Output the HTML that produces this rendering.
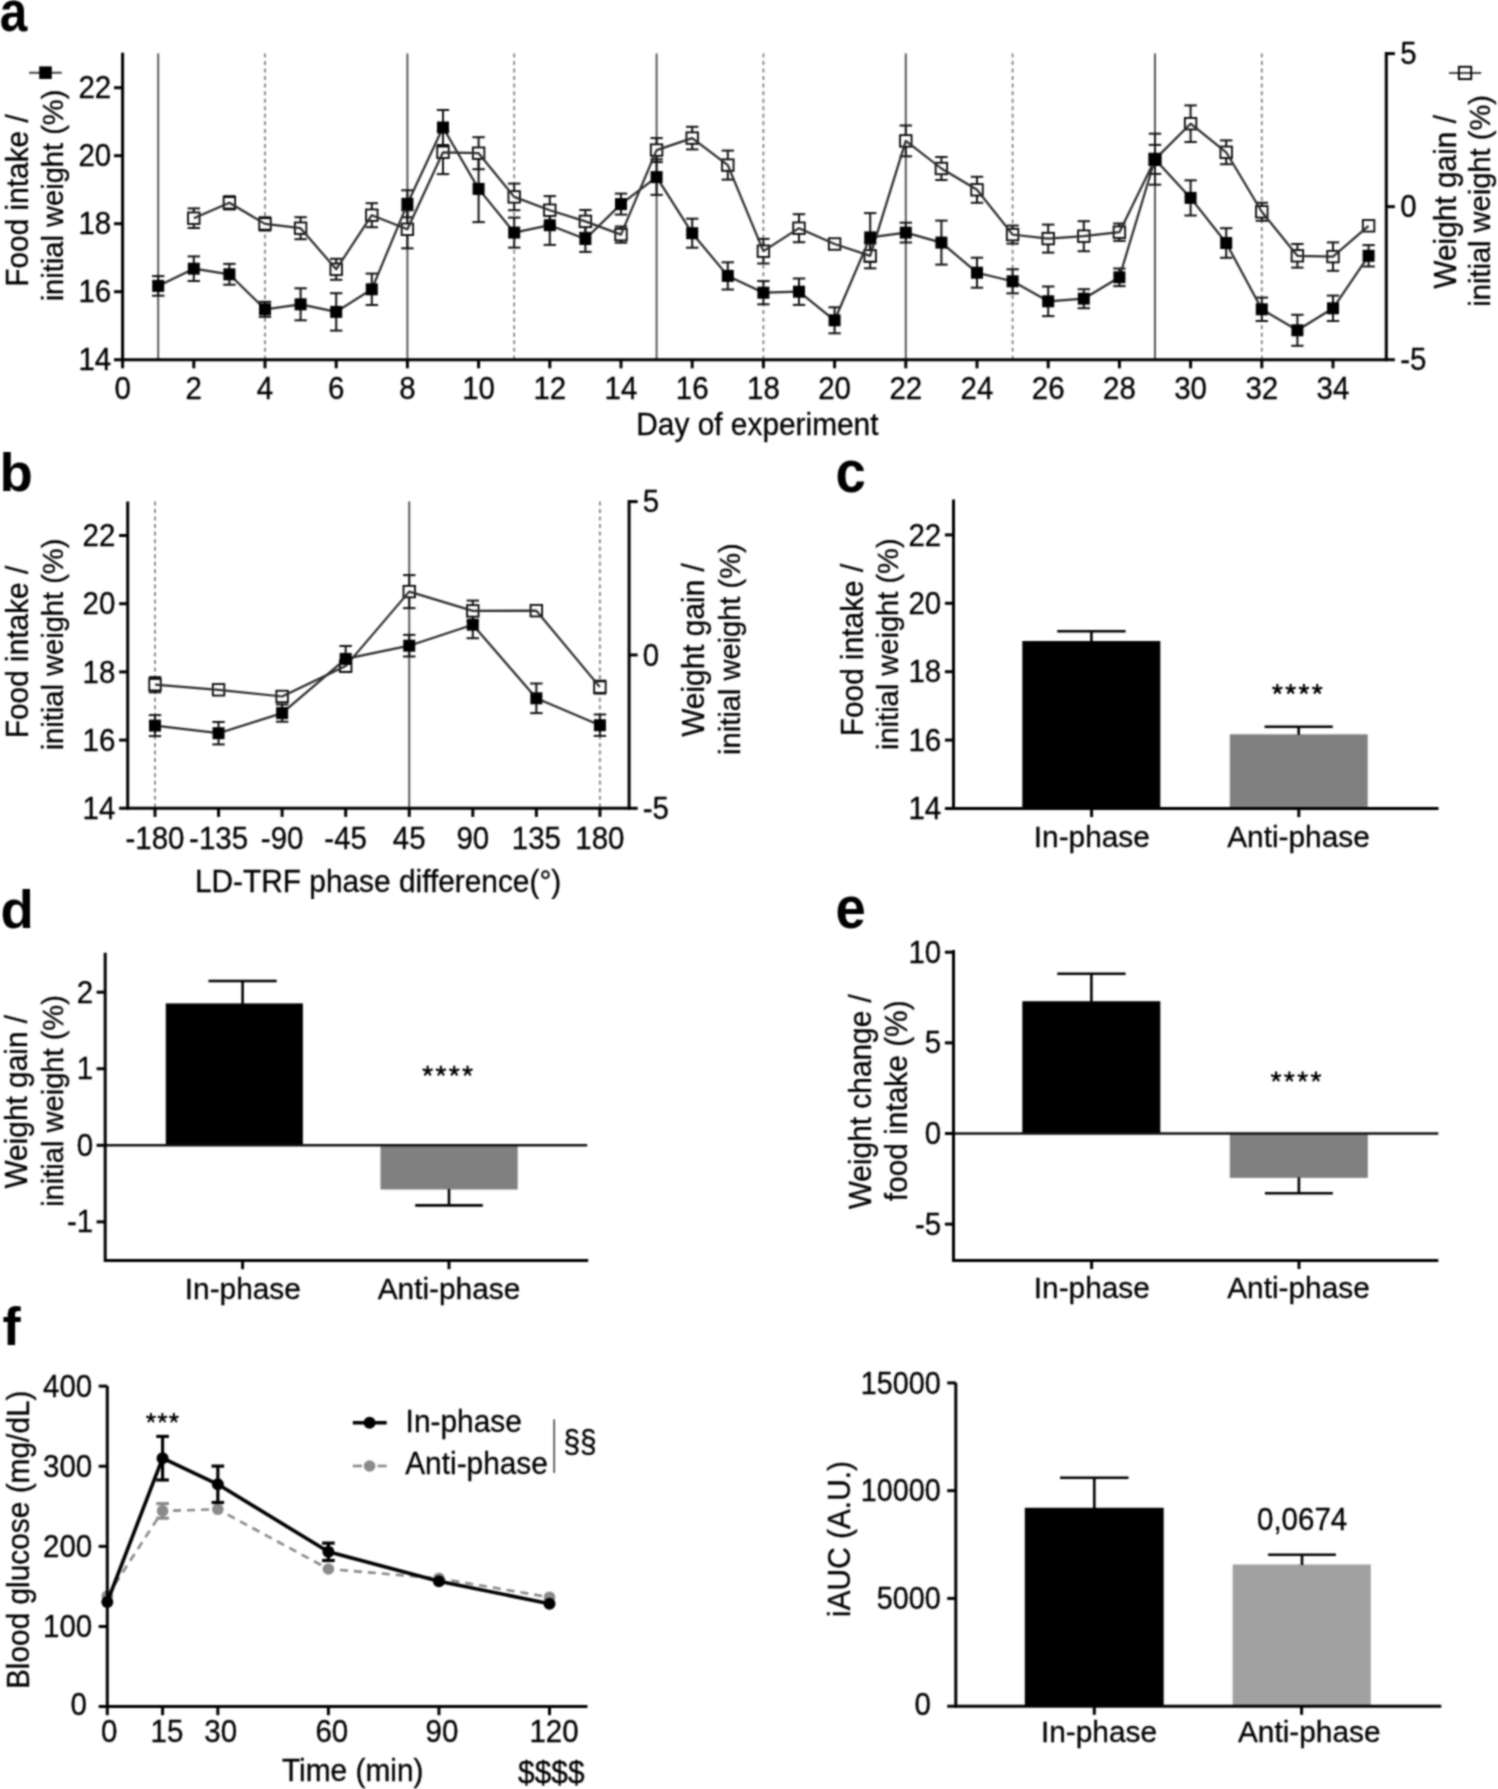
<!DOCTYPE html>
<html><head><meta charset="utf-8"><style>
html,body{margin:0;padding:0;background:#fff;overflow:hidden;}
svg{display:block;filter:grayscale(1);}
text{font-family:"Liberation Sans", sans-serif;}
</style></head><body>
<svg width="1498" height="1789" viewBox="0 0 1498 1789" font-family='"Liberation Sans", sans-serif'>
<defs><filter id="soft" filterUnits="userSpaceOnUse" x="0" y="0" width="1498" height="1789" color-interpolation-filters="sRGB"><feConvolveMatrix order="5 1" kernelMatrix="0.0628 0.5006 1.0000 0.5006 0.0628" divisor="2.1267" edgeMode="duplicate" preserveAlpha="true" result="h"/><feConvolveMatrix in="h" order="1 5" kernelMatrix="0.0628 0.5006 1.0000 0.5006 0.0628" divisor="2.1267" edgeMode="duplicate" preserveAlpha="true"/></filter></defs>
<rect width="1498" height="1789" fill="#fff"/>
<g filter="url(#soft)">
<rect width="1498" height="1789" fill="#fff"/>
<text transform="translate(-0.20 30.80) scale(0.91 1.05)" text-anchor="start" font-size="54.5" font-weight="bold" fill="#000" >a</text>
<text transform="translate(-0.40 491.40)" text-anchor="start" font-size="54.5" font-weight="bold" fill="#000" >b</text>
<text transform="translate(835.60 492.20) scale(1.0 1.07)" text-anchor="start" font-size="54.5" font-weight="bold" fill="#000" >c</text>
<text transform="translate(0.40 927.60)" text-anchor="start" font-size="54.5" font-weight="bold" fill="#000" >d</text>
<text transform="translate(835.60 928.40) scale(1.0 1.07)" text-anchor="start" font-size="54.5" font-weight="bold" fill="#000" >e</text>
<text transform="translate(2.60 1345.20)" text-anchor="start" font-size="54.5" font-weight="bold" fill="#000" >f</text>
<line x1="158.20" y1="53.60" x2="158.20" y2="359.70" stroke="#505050" stroke-width="1.9" />
<line x1="407.40" y1="53.60" x2="407.40" y2="359.70" stroke="#505050" stroke-width="1.9" />
<line x1="656.60" y1="53.60" x2="656.60" y2="359.70" stroke="#505050" stroke-width="1.9" />
<line x1="905.80" y1="53.60" x2="905.80" y2="359.70" stroke="#505050" stroke-width="1.9" />
<line x1="1155.00" y1="53.60" x2="1155.00" y2="359.70" stroke="#505050" stroke-width="1.9" />
<line x1="265.00" y1="53.40" x2="265.00" y2="359.70" stroke="#7a7a7a" stroke-width="1.7" stroke-dasharray="4 3.55"/>
<line x1="514.20" y1="53.40" x2="514.20" y2="359.70" stroke="#7a7a7a" stroke-width="1.7" stroke-dasharray="4 3.55"/>
<line x1="763.40" y1="53.40" x2="763.40" y2="359.70" stroke="#7a7a7a" stroke-width="1.7" stroke-dasharray="4 3.55"/>
<line x1="1012.60" y1="53.40" x2="1012.60" y2="359.70" stroke="#7a7a7a" stroke-width="1.7" stroke-dasharray="4 3.55"/>
<line x1="1261.80" y1="53.40" x2="1261.80" y2="359.70" stroke="#7a7a7a" stroke-width="1.7" stroke-dasharray="4 3.55"/>
<line x1="193.80" y1="208.40" x2="193.80" y2="212.05" stroke="#111" stroke-width="2.0" />
<line x1="193.80" y1="224.35" x2="193.80" y2="228.00" stroke="#111" stroke-width="2.0" />
<line x1="187.60" y1="208.40" x2="200.00" y2="208.40" stroke="#111" stroke-width="2.0" />
<line x1="187.60" y1="228.00" x2="200.00" y2="228.00" stroke="#111" stroke-width="2.0" />
<line x1="229.40" y1="196.20" x2="229.40" y2="196.65" stroke="#111" stroke-width="2.0" />
<line x1="229.40" y1="208.95" x2="229.40" y2="209.40" stroke="#111" stroke-width="2.0" />
<line x1="223.20" y1="196.20" x2="235.60" y2="196.20" stroke="#111" stroke-width="2.0" />
<line x1="223.20" y1="209.40" x2="235.60" y2="209.40" stroke="#111" stroke-width="2.0" />
<line x1="265.00" y1="217.30" x2="265.00" y2="217.75" stroke="#111" stroke-width="2.0" />
<line x1="265.00" y1="230.05" x2="265.00" y2="230.50" stroke="#111" stroke-width="2.0" />
<line x1="258.80" y1="217.30" x2="271.20" y2="217.30" stroke="#111" stroke-width="2.0" />
<line x1="258.80" y1="230.50" x2="271.20" y2="230.50" stroke="#111" stroke-width="2.0" />
<line x1="300.60" y1="217.20" x2="300.60" y2="222.05" stroke="#111" stroke-width="2.0" />
<line x1="300.60" y1="234.35" x2="300.60" y2="239.20" stroke="#111" stroke-width="2.0" />
<line x1="294.40" y1="217.20" x2="306.80" y2="217.20" stroke="#111" stroke-width="2.0" />
<line x1="294.40" y1="239.20" x2="306.80" y2="239.20" stroke="#111" stroke-width="2.0" />
<line x1="336.20" y1="258.80" x2="336.20" y2="263.15" stroke="#111" stroke-width="2.0" />
<line x1="336.20" y1="275.45" x2="336.20" y2="279.80" stroke="#111" stroke-width="2.0" />
<line x1="330.00" y1="258.80" x2="342.40" y2="258.80" stroke="#111" stroke-width="2.0" />
<line x1="330.00" y1="279.80" x2="342.40" y2="279.80" stroke="#111" stroke-width="2.0" />
<line x1="371.80" y1="203.20" x2="371.80" y2="209.05" stroke="#111" stroke-width="2.0" />
<line x1="371.80" y1="221.35" x2="371.80" y2="227.20" stroke="#111" stroke-width="2.0" />
<line x1="365.60" y1="203.20" x2="378.00" y2="203.20" stroke="#111" stroke-width="2.0" />
<line x1="365.60" y1="227.20" x2="378.00" y2="227.20" stroke="#111" stroke-width="2.0" />
<line x1="407.40" y1="210.30" x2="407.40" y2="223.15" stroke="#111" stroke-width="2.0" />
<line x1="407.40" y1="235.45" x2="407.40" y2="248.30" stroke="#111" stroke-width="2.0" />
<line x1="401.20" y1="210.30" x2="413.60" y2="210.30" stroke="#111" stroke-width="2.0" />
<line x1="401.20" y1="248.30" x2="413.60" y2="248.30" stroke="#111" stroke-width="2.0" />
<line x1="443.00" y1="130.50" x2="443.00" y2="146.15" stroke="#111" stroke-width="2.0" />
<line x1="443.00" y1="158.45" x2="443.00" y2="174.10" stroke="#111" stroke-width="2.0" />
<line x1="436.80" y1="130.50" x2="449.20" y2="130.50" stroke="#111" stroke-width="2.0" />
<line x1="436.80" y1="174.10" x2="449.20" y2="174.10" stroke="#111" stroke-width="2.0" />
<line x1="478.60" y1="137.20" x2="478.60" y2="147.05" stroke="#111" stroke-width="2.0" />
<line x1="478.60" y1="159.35" x2="478.60" y2="169.20" stroke="#111" stroke-width="2.0" />
<line x1="472.40" y1="137.20" x2="484.80" y2="137.20" stroke="#111" stroke-width="2.0" />
<line x1="472.40" y1="169.20" x2="484.80" y2="169.20" stroke="#111" stroke-width="2.0" />
<line x1="514.20" y1="183.60" x2="514.20" y2="190.75" stroke="#111" stroke-width="2.0" />
<line x1="514.20" y1="203.05" x2="514.20" y2="210.20" stroke="#111" stroke-width="2.0" />
<line x1="508.00" y1="183.60" x2="520.40" y2="183.60" stroke="#111" stroke-width="2.0" />
<line x1="508.00" y1="210.20" x2="520.40" y2="210.20" stroke="#111" stroke-width="2.0" />
<line x1="549.80" y1="196.10" x2="549.80" y2="204.05" stroke="#111" stroke-width="2.0" />
<line x1="549.80" y1="216.35" x2="549.80" y2="224.30" stroke="#111" stroke-width="2.0" />
<line x1="543.60" y1="196.10" x2="556.00" y2="196.10" stroke="#111" stroke-width="2.0" />
<line x1="543.60" y1="224.30" x2="556.00" y2="224.30" stroke="#111" stroke-width="2.0" />
<line x1="585.40" y1="210.00" x2="585.40" y2="215.25" stroke="#111" stroke-width="2.0" />
<line x1="585.40" y1="227.55" x2="585.40" y2="232.80" stroke="#111" stroke-width="2.0" />
<line x1="579.20" y1="210.00" x2="591.60" y2="210.00" stroke="#111" stroke-width="2.0" />
<line x1="579.20" y1="232.80" x2="591.60" y2="232.80" stroke="#111" stroke-width="2.0" />
<line x1="621.00" y1="226.50" x2="621.00" y2="228.45" stroke="#111" stroke-width="2.0" />
<line x1="621.00" y1="240.75" x2="621.00" y2="242.70" stroke="#111" stroke-width="2.0" />
<line x1="614.80" y1="226.50" x2="627.20" y2="226.50" stroke="#111" stroke-width="2.0" />
<line x1="614.80" y1="242.70" x2="627.20" y2="242.70" stroke="#111" stroke-width="2.0" />
<line x1="656.60" y1="138.10" x2="656.60" y2="143.95" stroke="#111" stroke-width="2.0" />
<line x1="656.60" y1="156.25" x2="656.60" y2="162.10" stroke="#111" stroke-width="2.0" />
<line x1="650.40" y1="138.10" x2="662.80" y2="138.10" stroke="#111" stroke-width="2.0" />
<line x1="650.40" y1="162.10" x2="662.80" y2="162.10" stroke="#111" stroke-width="2.0" />
<line x1="692.20" y1="126.80" x2="692.20" y2="131.95" stroke="#111" stroke-width="2.0" />
<line x1="692.20" y1="144.25" x2="692.20" y2="149.40" stroke="#111" stroke-width="2.0" />
<line x1="686.00" y1="126.80" x2="698.40" y2="126.80" stroke="#111" stroke-width="2.0" />
<line x1="686.00" y1="149.40" x2="698.40" y2="149.40" stroke="#111" stroke-width="2.0" />
<line x1="727.80" y1="150.60" x2="727.80" y2="158.95" stroke="#111" stroke-width="2.0" />
<line x1="727.80" y1="171.25" x2="727.80" y2="179.60" stroke="#111" stroke-width="2.0" />
<line x1="721.60" y1="150.60" x2="734.00" y2="150.60" stroke="#111" stroke-width="2.0" />
<line x1="721.60" y1="179.60" x2="734.00" y2="179.60" stroke="#111" stroke-width="2.0" />
<line x1="763.40" y1="238.90" x2="763.40" y2="245.05" stroke="#111" stroke-width="2.0" />
<line x1="763.40" y1="257.35" x2="763.40" y2="263.50" stroke="#111" stroke-width="2.0" />
<line x1="757.20" y1="238.90" x2="769.60" y2="238.90" stroke="#111" stroke-width="2.0" />
<line x1="757.20" y1="263.50" x2="769.60" y2="263.50" stroke="#111" stroke-width="2.0" />
<line x1="799.00" y1="214.20" x2="799.00" y2="222.05" stroke="#111" stroke-width="2.0" />
<line x1="799.00" y1="234.35" x2="799.00" y2="242.20" stroke="#111" stroke-width="2.0" />
<line x1="792.80" y1="214.20" x2="805.20" y2="214.20" stroke="#111" stroke-width="2.0" />
<line x1="792.80" y1="242.20" x2="805.20" y2="242.20" stroke="#111" stroke-width="2.0" />
<line x1="870.20" y1="243.50" x2="870.20" y2="249.75" stroke="#111" stroke-width="2.0" />
<line x1="870.20" y1="262.05" x2="870.20" y2="268.30" stroke="#111" stroke-width="2.0" />
<line x1="864.00" y1="243.50" x2="876.40" y2="243.50" stroke="#111" stroke-width="2.0" />
<line x1="864.00" y1="268.30" x2="876.40" y2="268.30" stroke="#111" stroke-width="2.0" />
<line x1="905.80" y1="125.50" x2="905.80" y2="134.75" stroke="#111" stroke-width="2.0" />
<line x1="905.80" y1="147.05" x2="905.80" y2="156.30" stroke="#111" stroke-width="2.0" />
<line x1="899.60" y1="125.50" x2="912.00" y2="125.50" stroke="#111" stroke-width="2.0" />
<line x1="899.60" y1="156.30" x2="912.00" y2="156.30" stroke="#111" stroke-width="2.0" />
<line x1="941.40" y1="157.00" x2="941.40" y2="162.35" stroke="#111" stroke-width="2.0" />
<line x1="941.40" y1="174.65" x2="941.40" y2="180.00" stroke="#111" stroke-width="2.0" />
<line x1="935.20" y1="157.00" x2="947.60" y2="157.00" stroke="#111" stroke-width="2.0" />
<line x1="935.20" y1="180.00" x2="947.60" y2="180.00" stroke="#111" stroke-width="2.0" />
<line x1="977.00" y1="176.80" x2="977.00" y2="183.65" stroke="#111" stroke-width="2.0" />
<line x1="977.00" y1="195.95" x2="977.00" y2="202.80" stroke="#111" stroke-width="2.0" />
<line x1="970.80" y1="176.80" x2="983.20" y2="176.80" stroke="#111" stroke-width="2.0" />
<line x1="970.80" y1="202.80" x2="983.20" y2="202.80" stroke="#111" stroke-width="2.0" />
<line x1="1012.60" y1="225.60" x2="1012.60" y2="228.45" stroke="#111" stroke-width="2.0" />
<line x1="1012.60" y1="240.75" x2="1012.60" y2="243.60" stroke="#111" stroke-width="2.0" />
<line x1="1006.40" y1="225.60" x2="1018.80" y2="225.60" stroke="#111" stroke-width="2.0" />
<line x1="1006.40" y1="243.60" x2="1018.80" y2="243.60" stroke="#111" stroke-width="2.0" />
<line x1="1048.20" y1="224.60" x2="1048.20" y2="232.45" stroke="#111" stroke-width="2.0" />
<line x1="1048.20" y1="244.75" x2="1048.20" y2="252.60" stroke="#111" stroke-width="2.0" />
<line x1="1042.00" y1="224.60" x2="1054.40" y2="224.60" stroke="#111" stroke-width="2.0" />
<line x1="1042.00" y1="252.60" x2="1054.40" y2="252.60" stroke="#111" stroke-width="2.0" />
<line x1="1083.80" y1="221.20" x2="1083.80" y2="230.05" stroke="#111" stroke-width="2.0" />
<line x1="1083.80" y1="242.35" x2="1083.80" y2="251.20" stroke="#111" stroke-width="2.0" />
<line x1="1077.60" y1="221.20" x2="1090.00" y2="221.20" stroke="#111" stroke-width="2.0" />
<line x1="1077.60" y1="251.20" x2="1090.00" y2="251.20" stroke="#111" stroke-width="2.0" />
<line x1="1119.40" y1="223.50" x2="1119.40" y2="226.05" stroke="#111" stroke-width="2.0" />
<line x1="1119.40" y1="238.35" x2="1119.40" y2="240.90" stroke="#111" stroke-width="2.0" />
<line x1="1113.20" y1="223.50" x2="1125.60" y2="223.50" stroke="#111" stroke-width="2.0" />
<line x1="1113.20" y1="240.90" x2="1125.60" y2="240.90" stroke="#111" stroke-width="2.0" />
<line x1="1155.00" y1="144.90" x2="1155.00" y2="153.25" stroke="#111" stroke-width="2.0" />
<line x1="1155.00" y1="165.55" x2="1155.00" y2="173.90" stroke="#111" stroke-width="2.0" />
<line x1="1148.80" y1="144.90" x2="1161.20" y2="144.90" stroke="#111" stroke-width="2.0" />
<line x1="1148.80" y1="173.90" x2="1161.20" y2="173.90" stroke="#111" stroke-width="2.0" />
<line x1="1190.60" y1="105.40" x2="1190.60" y2="117.55" stroke="#111" stroke-width="2.0" />
<line x1="1190.60" y1="129.85" x2="1190.60" y2="142.00" stroke="#111" stroke-width="2.0" />
<line x1="1184.40" y1="105.40" x2="1196.80" y2="105.40" stroke="#111" stroke-width="2.0" />
<line x1="1184.40" y1="142.00" x2="1196.80" y2="142.00" stroke="#111" stroke-width="2.0" />
<line x1="1226.20" y1="140.40" x2="1226.20" y2="146.15" stroke="#111" stroke-width="2.0" />
<line x1="1226.20" y1="158.45" x2="1226.20" y2="164.20" stroke="#111" stroke-width="2.0" />
<line x1="1220.00" y1="140.40" x2="1232.40" y2="140.40" stroke="#111" stroke-width="2.0" />
<line x1="1220.00" y1="164.20" x2="1232.40" y2="164.20" stroke="#111" stroke-width="2.0" />
<line x1="1261.80" y1="202.80" x2="1261.80" y2="205.65" stroke="#111" stroke-width="2.0" />
<line x1="1261.80" y1="217.95" x2="1261.80" y2="220.80" stroke="#111" stroke-width="2.0" />
<line x1="1255.60" y1="202.80" x2="1268.00" y2="202.80" stroke="#111" stroke-width="2.0" />
<line x1="1255.60" y1="220.80" x2="1268.00" y2="220.80" stroke="#111" stroke-width="2.0" />
<line x1="1297.40" y1="244.00" x2="1297.40" y2="249.65" stroke="#111" stroke-width="2.0" />
<line x1="1297.40" y1="261.95" x2="1297.40" y2="267.60" stroke="#111" stroke-width="2.0" />
<line x1="1291.20" y1="244.00" x2="1303.60" y2="244.00" stroke="#111" stroke-width="2.0" />
<line x1="1291.20" y1="267.60" x2="1303.60" y2="267.60" stroke="#111" stroke-width="2.0" />
<line x1="1333.00" y1="242.40" x2="1333.00" y2="250.45" stroke="#111" stroke-width="2.0" />
<line x1="1333.00" y1="262.75" x2="1333.00" y2="270.80" stroke="#111" stroke-width="2.0" />
<line x1="1326.80" y1="242.40" x2="1339.20" y2="242.40" stroke="#111" stroke-width="2.0" />
<line x1="1326.80" y1="270.80" x2="1339.20" y2="270.80" stroke="#111" stroke-width="2.0" />
<line x1="1362.40" y1="222.80" x2="1374.80" y2="222.80" stroke="#111" stroke-width="2.0" />
<line x1="1362.40" y1="228.80" x2="1374.80" y2="228.80" stroke="#111" stroke-width="2.0" />
<line x1="158.20" y1="276.10" x2="158.20" y2="285.90" stroke="#111" stroke-width="2.0" />
<line x1="158.20" y1="285.90" x2="158.20" y2="295.70" stroke="#111" stroke-width="2.0" />
<line x1="152.00" y1="276.10" x2="164.40" y2="276.10" stroke="#111" stroke-width="2.0" />
<line x1="152.00" y1="295.70" x2="164.40" y2="295.70" stroke="#111" stroke-width="2.0" />
<line x1="193.80" y1="256.40" x2="193.80" y2="268.70" stroke="#111" stroke-width="2.0" />
<line x1="193.80" y1="268.70" x2="193.80" y2="281.00" stroke="#111" stroke-width="2.0" />
<line x1="187.60" y1="256.40" x2="200.00" y2="256.40" stroke="#111" stroke-width="2.0" />
<line x1="187.60" y1="281.00" x2="200.00" y2="281.00" stroke="#111" stroke-width="2.0" />
<line x1="229.40" y1="263.90" x2="229.40" y2="274.30" stroke="#111" stroke-width="2.0" />
<line x1="229.40" y1="274.30" x2="229.40" y2="284.70" stroke="#111" stroke-width="2.0" />
<line x1="223.20" y1="263.90" x2="235.60" y2="263.90" stroke="#111" stroke-width="2.0" />
<line x1="223.20" y1="284.70" x2="235.60" y2="284.70" stroke="#111" stroke-width="2.0" />
<line x1="265.00" y1="301.80" x2="265.00" y2="309.30" stroke="#111" stroke-width="2.0" />
<line x1="265.00" y1="309.30" x2="265.00" y2="316.80" stroke="#111" stroke-width="2.0" />
<line x1="258.80" y1="301.80" x2="271.20" y2="301.80" stroke="#111" stroke-width="2.0" />
<line x1="258.80" y1="316.80" x2="271.20" y2="316.80" stroke="#111" stroke-width="2.0" />
<line x1="300.60" y1="288.30" x2="300.60" y2="304.30" stroke="#111" stroke-width="2.0" />
<line x1="300.60" y1="304.30" x2="300.60" y2="320.30" stroke="#111" stroke-width="2.0" />
<line x1="294.40" y1="288.30" x2="306.80" y2="288.30" stroke="#111" stroke-width="2.0" />
<line x1="294.40" y1="320.30" x2="306.80" y2="320.30" stroke="#111" stroke-width="2.0" />
<line x1="336.20" y1="293.20" x2="336.20" y2="311.90" stroke="#111" stroke-width="2.0" />
<line x1="336.20" y1="311.90" x2="336.20" y2="330.60" stroke="#111" stroke-width="2.0" />
<line x1="330.00" y1="293.20" x2="342.40" y2="293.20" stroke="#111" stroke-width="2.0" />
<line x1="330.00" y1="330.60" x2="342.40" y2="330.60" stroke="#111" stroke-width="2.0" />
<line x1="371.80" y1="273.60" x2="371.80" y2="289.30" stroke="#111" stroke-width="2.0" />
<line x1="371.80" y1="289.30" x2="371.80" y2="305.00" stroke="#111" stroke-width="2.0" />
<line x1="365.60" y1="273.60" x2="378.00" y2="273.60" stroke="#111" stroke-width="2.0" />
<line x1="365.60" y1="305.00" x2="378.00" y2="305.00" stroke="#111" stroke-width="2.0" />
<line x1="407.40" y1="190.30" x2="407.40" y2="203.80" stroke="#111" stroke-width="2.0" />
<line x1="407.40" y1="203.80" x2="407.40" y2="217.30" stroke="#111" stroke-width="2.0" />
<line x1="401.20" y1="190.30" x2="413.60" y2="190.30" stroke="#111" stroke-width="2.0" />
<line x1="401.20" y1="217.30" x2="413.60" y2="217.30" stroke="#111" stroke-width="2.0" />
<line x1="443.00" y1="110.00" x2="443.00" y2="127.50" stroke="#111" stroke-width="2.0" />
<line x1="443.00" y1="127.50" x2="443.00" y2="145.00" stroke="#111" stroke-width="2.0" />
<line x1="436.80" y1="110.00" x2="449.20" y2="110.00" stroke="#111" stroke-width="2.0" />
<line x1="436.80" y1="145.00" x2="449.20" y2="145.00" stroke="#111" stroke-width="2.0" />
<line x1="478.60" y1="155.70" x2="478.60" y2="188.90" stroke="#111" stroke-width="2.0" />
<line x1="478.60" y1="188.90" x2="478.60" y2="222.10" stroke="#111" stroke-width="2.0" />
<line x1="472.40" y1="155.70" x2="484.80" y2="155.70" stroke="#111" stroke-width="2.0" />
<line x1="472.40" y1="222.10" x2="484.80" y2="222.10" stroke="#111" stroke-width="2.0" />
<line x1="514.20" y1="217.60" x2="514.20" y2="232.60" stroke="#111" stroke-width="2.0" />
<line x1="514.20" y1="232.60" x2="514.20" y2="247.60" stroke="#111" stroke-width="2.0" />
<line x1="508.00" y1="217.60" x2="520.40" y2="217.60" stroke="#111" stroke-width="2.0" />
<line x1="508.00" y1="247.60" x2="520.40" y2="247.60" stroke="#111" stroke-width="2.0" />
<line x1="549.80" y1="205.50" x2="549.80" y2="225.20" stroke="#111" stroke-width="2.0" />
<line x1="549.80" y1="225.20" x2="549.80" y2="244.90" stroke="#111" stroke-width="2.0" />
<line x1="543.60" y1="205.50" x2="556.00" y2="205.50" stroke="#111" stroke-width="2.0" />
<line x1="543.60" y1="244.90" x2="556.00" y2="244.90" stroke="#111" stroke-width="2.0" />
<line x1="585.40" y1="226.10" x2="585.40" y2="239.00" stroke="#111" stroke-width="2.0" />
<line x1="585.40" y1="239.00" x2="585.40" y2="251.90" stroke="#111" stroke-width="2.0" />
<line x1="579.20" y1="226.10" x2="591.60" y2="226.10" stroke="#111" stroke-width="2.0" />
<line x1="579.20" y1="251.90" x2="591.60" y2="251.90" stroke="#111" stroke-width="2.0" />
<line x1="621.00" y1="193.60" x2="621.00" y2="204.10" stroke="#111" stroke-width="2.0" />
<line x1="621.00" y1="204.10" x2="621.00" y2="214.60" stroke="#111" stroke-width="2.0" />
<line x1="614.80" y1="193.60" x2="627.20" y2="193.60" stroke="#111" stroke-width="2.0" />
<line x1="614.80" y1="214.60" x2="627.20" y2="214.60" stroke="#111" stroke-width="2.0" />
<line x1="656.60" y1="159.30" x2="656.60" y2="177.10" stroke="#111" stroke-width="2.0" />
<line x1="656.60" y1="177.10" x2="656.60" y2="194.90" stroke="#111" stroke-width="2.0" />
<line x1="650.40" y1="159.30" x2="662.80" y2="159.30" stroke="#111" stroke-width="2.0" />
<line x1="650.40" y1="194.90" x2="662.80" y2="194.90" stroke="#111" stroke-width="2.0" />
<line x1="692.20" y1="218.70" x2="692.20" y2="233.20" stroke="#111" stroke-width="2.0" />
<line x1="692.20" y1="233.20" x2="692.20" y2="247.70" stroke="#111" stroke-width="2.0" />
<line x1="686.00" y1="218.70" x2="698.40" y2="218.70" stroke="#111" stroke-width="2.0" />
<line x1="686.00" y1="247.70" x2="698.40" y2="247.70" stroke="#111" stroke-width="2.0" />
<line x1="727.80" y1="262.30" x2="727.80" y2="275.90" stroke="#111" stroke-width="2.0" />
<line x1="727.80" y1="275.90" x2="727.80" y2="289.50" stroke="#111" stroke-width="2.0" />
<line x1="721.60" y1="262.30" x2="734.00" y2="262.30" stroke="#111" stroke-width="2.0" />
<line x1="721.60" y1="289.50" x2="734.00" y2="289.50" stroke="#111" stroke-width="2.0" />
<line x1="763.40" y1="281.10" x2="763.40" y2="292.70" stroke="#111" stroke-width="2.0" />
<line x1="763.40" y1="292.70" x2="763.40" y2="304.30" stroke="#111" stroke-width="2.0" />
<line x1="757.20" y1="281.10" x2="769.60" y2="281.10" stroke="#111" stroke-width="2.0" />
<line x1="757.20" y1="304.30" x2="769.60" y2="304.30" stroke="#111" stroke-width="2.0" />
<line x1="799.00" y1="278.50" x2="799.00" y2="291.70" stroke="#111" stroke-width="2.0" />
<line x1="799.00" y1="291.70" x2="799.00" y2="304.90" stroke="#111" stroke-width="2.0" />
<line x1="792.80" y1="278.50" x2="805.20" y2="278.50" stroke="#111" stroke-width="2.0" />
<line x1="792.80" y1="304.90" x2="805.20" y2="304.90" stroke="#111" stroke-width="2.0" />
<line x1="834.60" y1="307.30" x2="834.60" y2="320.30" stroke="#111" stroke-width="2.0" />
<line x1="834.60" y1="320.30" x2="834.60" y2="333.30" stroke="#111" stroke-width="2.0" />
<line x1="828.40" y1="307.30" x2="840.80" y2="307.30" stroke="#111" stroke-width="2.0" />
<line x1="828.40" y1="333.30" x2="840.80" y2="333.30" stroke="#111" stroke-width="2.0" />
<line x1="870.20" y1="213.10" x2="870.20" y2="237.40" stroke="#111" stroke-width="2.0" />
<line x1="870.20" y1="237.40" x2="870.20" y2="261.70" stroke="#111" stroke-width="2.0" />
<line x1="864.00" y1="213.10" x2="876.40" y2="213.10" stroke="#111" stroke-width="2.0" />
<line x1="864.00" y1="261.70" x2="876.40" y2="261.70" stroke="#111" stroke-width="2.0" />
<line x1="905.80" y1="222.70" x2="905.80" y2="232.60" stroke="#111" stroke-width="2.0" />
<line x1="905.80" y1="232.60" x2="905.80" y2="242.50" stroke="#111" stroke-width="2.0" />
<line x1="899.60" y1="222.70" x2="912.00" y2="222.70" stroke="#111" stroke-width="2.0" />
<line x1="899.60" y1="242.50" x2="912.00" y2="242.50" stroke="#111" stroke-width="2.0" />
<line x1="941.40" y1="220.60" x2="941.40" y2="242.60" stroke="#111" stroke-width="2.0" />
<line x1="941.40" y1="242.60" x2="941.40" y2="264.60" stroke="#111" stroke-width="2.0" />
<line x1="935.20" y1="220.60" x2="947.60" y2="220.60" stroke="#111" stroke-width="2.0" />
<line x1="935.20" y1="264.60" x2="947.60" y2="264.60" stroke="#111" stroke-width="2.0" />
<line x1="977.00" y1="257.70" x2="977.00" y2="272.70" stroke="#111" stroke-width="2.0" />
<line x1="977.00" y1="272.70" x2="977.00" y2="287.70" stroke="#111" stroke-width="2.0" />
<line x1="970.80" y1="257.70" x2="983.20" y2="257.70" stroke="#111" stroke-width="2.0" />
<line x1="970.80" y1="287.70" x2="983.20" y2="287.70" stroke="#111" stroke-width="2.0" />
<line x1="1012.60" y1="269.30" x2="1012.60" y2="281.30" stroke="#111" stroke-width="2.0" />
<line x1="1012.60" y1="281.30" x2="1012.60" y2="293.30" stroke="#111" stroke-width="2.0" />
<line x1="1006.40" y1="269.30" x2="1018.80" y2="269.30" stroke="#111" stroke-width="2.0" />
<line x1="1006.40" y1="293.30" x2="1018.80" y2="293.30" stroke="#111" stroke-width="2.0" />
<line x1="1048.20" y1="286.50" x2="1048.20" y2="301.30" stroke="#111" stroke-width="2.0" />
<line x1="1048.20" y1="301.30" x2="1048.20" y2="316.10" stroke="#111" stroke-width="2.0" />
<line x1="1042.00" y1="286.50" x2="1054.40" y2="286.50" stroke="#111" stroke-width="2.0" />
<line x1="1042.00" y1="316.10" x2="1054.40" y2="316.10" stroke="#111" stroke-width="2.0" />
<line x1="1083.80" y1="289.20" x2="1083.80" y2="298.70" stroke="#111" stroke-width="2.0" />
<line x1="1083.80" y1="298.70" x2="1083.80" y2="308.20" stroke="#111" stroke-width="2.0" />
<line x1="1077.60" y1="289.20" x2="1090.00" y2="289.20" stroke="#111" stroke-width="2.0" />
<line x1="1077.60" y1="308.20" x2="1090.00" y2="308.20" stroke="#111" stroke-width="2.0" />
<line x1="1119.40" y1="268.50" x2="1119.40" y2="277.30" stroke="#111" stroke-width="2.0" />
<line x1="1119.40" y1="277.30" x2="1119.40" y2="286.10" stroke="#111" stroke-width="2.0" />
<line x1="1113.20" y1="268.50" x2="1125.60" y2="268.50" stroke="#111" stroke-width="2.0" />
<line x1="1113.20" y1="286.10" x2="1125.60" y2="286.10" stroke="#111" stroke-width="2.0" />
<line x1="1155.00" y1="133.70" x2="1155.00" y2="159.20" stroke="#111" stroke-width="2.0" />
<line x1="1155.00" y1="159.20" x2="1155.00" y2="184.70" stroke="#111" stroke-width="2.0" />
<line x1="1148.80" y1="133.70" x2="1161.20" y2="133.70" stroke="#111" stroke-width="2.0" />
<line x1="1148.80" y1="184.70" x2="1161.20" y2="184.70" stroke="#111" stroke-width="2.0" />
<line x1="1190.60" y1="180.30" x2="1190.60" y2="197.90" stroke="#111" stroke-width="2.0" />
<line x1="1190.60" y1="197.90" x2="1190.60" y2="215.50" stroke="#111" stroke-width="2.0" />
<line x1="1184.40" y1="180.30" x2="1196.80" y2="180.30" stroke="#111" stroke-width="2.0" />
<line x1="1184.40" y1="215.50" x2="1196.80" y2="215.50" stroke="#111" stroke-width="2.0" />
<line x1="1226.20" y1="228.20" x2="1226.20" y2="243.00" stroke="#111" stroke-width="2.0" />
<line x1="1226.20" y1="243.00" x2="1226.20" y2="257.80" stroke="#111" stroke-width="2.0" />
<line x1="1220.00" y1="228.20" x2="1232.40" y2="228.20" stroke="#111" stroke-width="2.0" />
<line x1="1220.00" y1="257.80" x2="1232.40" y2="257.80" stroke="#111" stroke-width="2.0" />
<line x1="1261.80" y1="297.60" x2="1261.80" y2="309.30" stroke="#111" stroke-width="2.0" />
<line x1="1261.80" y1="309.30" x2="1261.80" y2="321.00" stroke="#111" stroke-width="2.0" />
<line x1="1255.60" y1="297.60" x2="1268.00" y2="297.60" stroke="#111" stroke-width="2.0" />
<line x1="1255.60" y1="321.00" x2="1268.00" y2="321.00" stroke="#111" stroke-width="2.0" />
<line x1="1297.40" y1="314.80" x2="1297.40" y2="330.30" stroke="#111" stroke-width="2.0" />
<line x1="1297.40" y1="330.30" x2="1297.40" y2="345.80" stroke="#111" stroke-width="2.0" />
<line x1="1291.20" y1="314.80" x2="1303.60" y2="314.80" stroke="#111" stroke-width="2.0" />
<line x1="1291.20" y1="345.80" x2="1303.60" y2="345.80" stroke="#111" stroke-width="2.0" />
<line x1="1333.00" y1="295.60" x2="1333.00" y2="308.30" stroke="#111" stroke-width="2.0" />
<line x1="1333.00" y1="308.30" x2="1333.00" y2="321.00" stroke="#111" stroke-width="2.0" />
<line x1="1326.80" y1="295.60" x2="1339.20" y2="295.60" stroke="#111" stroke-width="2.0" />
<line x1="1326.80" y1="321.00" x2="1339.20" y2="321.00" stroke="#111" stroke-width="2.0" />
<line x1="1368.60" y1="245.10" x2="1368.60" y2="255.80" stroke="#111" stroke-width="2.0" />
<line x1="1368.60" y1="255.80" x2="1368.60" y2="266.50" stroke="#111" stroke-width="2.0" />
<line x1="1362.40" y1="245.10" x2="1374.80" y2="245.10" stroke="#111" stroke-width="2.0" />
<line x1="1362.40" y1="266.50" x2="1374.80" y2="266.50" stroke="#111" stroke-width="2.0" />
<rect x="188.05" y="212.45" width="11.5" height="11.5" fill="#fff" stroke="#000" stroke-width="1.8"/>
<rect x="223.65" y="197.05" width="11.5" height="11.5" fill="#fff" stroke="#000" stroke-width="1.8"/>
<rect x="259.25" y="218.15" width="11.5" height="11.5" fill="#fff" stroke="#000" stroke-width="1.8"/>
<rect x="294.85" y="222.45" width="11.5" height="11.5" fill="#fff" stroke="#000" stroke-width="1.8"/>
<rect x="330.45" y="263.55" width="11.5" height="11.5" fill="#fff" stroke="#000" stroke-width="1.8"/>
<rect x="366.05" y="209.45" width="11.5" height="11.5" fill="#fff" stroke="#000" stroke-width="1.8"/>
<rect x="401.65" y="223.55" width="11.5" height="11.5" fill="#fff" stroke="#000" stroke-width="1.8"/>
<rect x="437.25" y="146.55" width="11.5" height="11.5" fill="#fff" stroke="#000" stroke-width="1.8"/>
<rect x="472.85" y="147.45" width="11.5" height="11.5" fill="#fff" stroke="#000" stroke-width="1.8"/>
<rect x="508.45" y="191.15" width="11.5" height="11.5" fill="#fff" stroke="#000" stroke-width="1.8"/>
<rect x="544.05" y="204.45" width="11.5" height="11.5" fill="#fff" stroke="#000" stroke-width="1.8"/>
<rect x="579.65" y="215.65" width="11.5" height="11.5" fill="#fff" stroke="#000" stroke-width="1.8"/>
<rect x="615.25" y="228.85" width="11.5" height="11.5" fill="#fff" stroke="#000" stroke-width="1.8"/>
<rect x="650.85" y="144.35" width="11.5" height="11.5" fill="#fff" stroke="#000" stroke-width="1.8"/>
<rect x="686.45" y="132.35" width="11.5" height="11.5" fill="#fff" stroke="#000" stroke-width="1.8"/>
<rect x="722.05" y="159.35" width="11.5" height="11.5" fill="#fff" stroke="#000" stroke-width="1.8"/>
<rect x="757.65" y="245.45" width="11.5" height="11.5" fill="#fff" stroke="#000" stroke-width="1.8"/>
<rect x="793.25" y="222.45" width="11.5" height="11.5" fill="#fff" stroke="#000" stroke-width="1.8"/>
<rect x="828.85" y="238.25" width="11.5" height="11.5" fill="#fff" stroke="#000" stroke-width="1.8"/>
<rect x="864.45" y="250.15" width="11.5" height="11.5" fill="#fff" stroke="#000" stroke-width="1.8"/>
<rect x="900.05" y="135.15" width="11.5" height="11.5" fill="#fff" stroke="#000" stroke-width="1.8"/>
<rect x="935.65" y="162.75" width="11.5" height="11.5" fill="#fff" stroke="#000" stroke-width="1.8"/>
<rect x="971.25" y="184.05" width="11.5" height="11.5" fill="#fff" stroke="#000" stroke-width="1.8"/>
<rect x="1006.85" y="228.85" width="11.5" height="11.5" fill="#fff" stroke="#000" stroke-width="1.8"/>
<rect x="1042.45" y="232.85" width="11.5" height="11.5" fill="#fff" stroke="#000" stroke-width="1.8"/>
<rect x="1078.05" y="230.45" width="11.5" height="11.5" fill="#fff" stroke="#000" stroke-width="1.8"/>
<rect x="1113.65" y="226.45" width="11.5" height="11.5" fill="#fff" stroke="#000" stroke-width="1.8"/>
<rect x="1149.25" y="153.65" width="11.5" height="11.5" fill="#fff" stroke="#000" stroke-width="1.8"/>
<rect x="1184.85" y="117.95" width="11.5" height="11.5" fill="#fff" stroke="#000" stroke-width="1.8"/>
<rect x="1220.45" y="146.55" width="11.5" height="11.5" fill="#fff" stroke="#000" stroke-width="1.8"/>
<rect x="1256.05" y="206.05" width="11.5" height="11.5" fill="#fff" stroke="#000" stroke-width="1.8"/>
<rect x="1291.65" y="250.05" width="11.5" height="11.5" fill="#fff" stroke="#000" stroke-width="1.8"/>
<rect x="1327.25" y="250.85" width="11.5" height="11.5" fill="#fff" stroke="#000" stroke-width="1.8"/>
<rect x="1362.85" y="220.05" width="11.5" height="11.5" fill="#fff" stroke="#000" stroke-width="1.8"/>
<polyline points="193.80,218.20 229.40,202.80 265.00,223.90 300.60,228.20 336.20,269.30 371.80,215.20 407.40,229.30 443.00,152.30 478.60,153.20 514.20,196.90 549.80,210.20 585.40,221.40 621.00,234.60 656.60,150.10 692.20,138.10 727.80,165.10 763.40,251.20 799.00,228.20 834.60,244.00 870.20,255.90 905.80,140.90 941.40,168.50 977.00,189.80 1012.60,234.60 1048.20,238.60 1083.80,236.20 1119.40,232.20 1155.00,159.40 1190.60,123.70 1226.20,152.30 1261.80,211.80 1297.40,255.80 1333.00,256.60 1368.60,225.80" fill="none" stroke="#2a2a2a" stroke-width="2.2" stroke-linejoin="round" />
<polyline points="158.20,285.90 193.80,268.70 229.40,274.30 265.00,309.30 300.60,304.30 336.20,311.90 371.80,289.30 407.40,203.80 443.00,127.50 478.60,188.90 514.20,232.60 549.80,225.20 585.40,239.00 621.00,204.10 656.60,177.10 692.20,233.20 727.80,275.90 763.40,292.70 799.00,291.70 834.60,320.30 870.20,237.40 905.80,232.60 941.40,242.60 977.00,272.70 1012.60,281.30 1048.20,301.30 1083.80,298.70 1119.40,277.30 1155.00,159.20 1190.60,197.90 1226.20,243.00 1261.80,309.30 1297.40,330.30 1333.00,308.30 1368.60,255.80" fill="none" stroke="#2a2a2a" stroke-width="2.2" stroke-linejoin="round" />
<rect x="152.20" y="279.90" width="12.00" height="12.00" fill="#000"/>
<rect x="187.80" y="262.70" width="12.00" height="12.00" fill="#000"/>
<rect x="223.40" y="268.30" width="12.00" height="12.00" fill="#000"/>
<rect x="259.00" y="303.30" width="12.00" height="12.00" fill="#000"/>
<rect x="294.60" y="298.30" width="12.00" height="12.00" fill="#000"/>
<rect x="330.20" y="305.90" width="12.00" height="12.00" fill="#000"/>
<rect x="365.80" y="283.30" width="12.00" height="12.00" fill="#000"/>
<rect x="401.40" y="197.80" width="12.00" height="12.00" fill="#000"/>
<rect x="437.00" y="121.50" width="12.00" height="12.00" fill="#000"/>
<rect x="472.60" y="182.90" width="12.00" height="12.00" fill="#000"/>
<rect x="508.20" y="226.60" width="12.00" height="12.00" fill="#000"/>
<rect x="543.80" y="219.20" width="12.00" height="12.00" fill="#000"/>
<rect x="579.40" y="233.00" width="12.00" height="12.00" fill="#000"/>
<rect x="615.00" y="198.10" width="12.00" height="12.00" fill="#000"/>
<rect x="650.60" y="171.10" width="12.00" height="12.00" fill="#000"/>
<rect x="686.20" y="227.20" width="12.00" height="12.00" fill="#000"/>
<rect x="721.80" y="269.90" width="12.00" height="12.00" fill="#000"/>
<rect x="757.40" y="286.70" width="12.00" height="12.00" fill="#000"/>
<rect x="793.00" y="285.70" width="12.00" height="12.00" fill="#000"/>
<rect x="828.60" y="314.30" width="12.00" height="12.00" fill="#000"/>
<rect x="864.20" y="231.40" width="12.00" height="12.00" fill="#000"/>
<rect x="899.80" y="226.60" width="12.00" height="12.00" fill="#000"/>
<rect x="935.40" y="236.60" width="12.00" height="12.00" fill="#000"/>
<rect x="971.00" y="266.70" width="12.00" height="12.00" fill="#000"/>
<rect x="1006.60" y="275.30" width="12.00" height="12.00" fill="#000"/>
<rect x="1042.20" y="295.30" width="12.00" height="12.00" fill="#000"/>
<rect x="1077.80" y="292.70" width="12.00" height="12.00" fill="#000"/>
<rect x="1113.40" y="271.30" width="12.00" height="12.00" fill="#000"/>
<rect x="1149.00" y="153.20" width="12.00" height="12.00" fill="#000"/>
<rect x="1184.60" y="191.90" width="12.00" height="12.00" fill="#000"/>
<rect x="1220.20" y="237.00" width="12.00" height="12.00" fill="#000"/>
<rect x="1255.80" y="303.30" width="12.00" height="12.00" fill="#000"/>
<rect x="1291.40" y="324.30" width="12.00" height="12.00" fill="#000"/>
<rect x="1327.00" y="302.30" width="12.00" height="12.00" fill="#000"/>
<rect x="1362.60" y="249.80" width="12.00" height="12.00" fill="#000"/>
<line x1="122.60" y1="52.80" x2="122.60" y2="361.20" stroke="#000" stroke-width="3.0" />
<line x1="114.00" y1="359.70" x2="1386.30" y2="359.70" stroke="#000" stroke-width="3.0" />
<line x1="1386.30" y1="52.10" x2="1386.30" y2="361.20" stroke="#000" stroke-width="3.0" />
<line x1="114.00" y1="291.70" x2="122.60" y2="291.70" stroke="#000" stroke-width="3.0" />
<line x1="114.00" y1="223.70" x2="122.60" y2="223.70" stroke="#000" stroke-width="3.0" />
<line x1="114.00" y1="155.70" x2="122.60" y2="155.70" stroke="#000" stroke-width="3.0" />
<line x1="114.00" y1="87.70" x2="122.60" y2="87.70" stroke="#000" stroke-width="3.0" />
<text transform="translate(111.20 370.30) scale(1.0 1.085)" text-anchor="end" font-size="29.5" fill="#000" stroke="#000" stroke-width="0.3" >14</text>
<text transform="translate(111.20 302.30) scale(1.0 1.085)" text-anchor="end" font-size="29.5" fill="#000" stroke="#000" stroke-width="0.3" >16</text>
<text transform="translate(111.20 234.30) scale(1.0 1.085)" text-anchor="end" font-size="29.5" fill="#000" stroke="#000" stroke-width="0.3" >18</text>
<text transform="translate(111.20 166.30) scale(1.0 1.085)" text-anchor="end" font-size="29.5" fill="#000" stroke="#000" stroke-width="0.3" >20</text>
<text transform="translate(111.20 98.30) scale(1.0 1.085)" text-anchor="end" font-size="29.5" fill="#000" stroke="#000" stroke-width="0.3" >22</text>
<line x1="122.60" y1="359.70" x2="122.60" y2="368.30" stroke="#000" stroke-width="3.0" />
<text transform="translate(122.60 399.40) scale(1.0 1.085)" text-anchor="middle" font-size="29.5" fill="#000" stroke="#000" stroke-width="0.3" >0</text>
<line x1="193.80" y1="359.70" x2="193.80" y2="368.30" stroke="#000" stroke-width="3.0" />
<text transform="translate(193.80 399.40) scale(1.0 1.085)" text-anchor="middle" font-size="29.5" fill="#000" stroke="#000" stroke-width="0.3" >2</text>
<line x1="265.00" y1="359.70" x2="265.00" y2="368.30" stroke="#000" stroke-width="3.0" />
<text transform="translate(265.00 399.40) scale(1.0 1.085)" text-anchor="middle" font-size="29.5" fill="#000" stroke="#000" stroke-width="0.3" >4</text>
<line x1="336.20" y1="359.70" x2="336.20" y2="368.30" stroke="#000" stroke-width="3.0" />
<text transform="translate(336.20 399.40) scale(1.0 1.085)" text-anchor="middle" font-size="29.5" fill="#000" stroke="#000" stroke-width="0.3" >6</text>
<line x1="407.40" y1="359.70" x2="407.40" y2="368.30" stroke="#000" stroke-width="3.0" />
<text transform="translate(407.40 399.40) scale(1.0 1.085)" text-anchor="middle" font-size="29.5" fill="#000" stroke="#000" stroke-width="0.3" >8</text>
<line x1="478.60" y1="359.70" x2="478.60" y2="368.30" stroke="#000" stroke-width="3.0" />
<text transform="translate(478.60 399.40) scale(1.0 1.085)" text-anchor="middle" font-size="29.5" fill="#000" stroke="#000" stroke-width="0.3" >10</text>
<line x1="549.80" y1="359.70" x2="549.80" y2="368.30" stroke="#000" stroke-width="3.0" />
<text transform="translate(549.80 399.40) scale(1.0 1.085)" text-anchor="middle" font-size="29.5" fill="#000" stroke="#000" stroke-width="0.3" >12</text>
<line x1="621.00" y1="359.70" x2="621.00" y2="368.30" stroke="#000" stroke-width="3.0" />
<text transform="translate(621.00 399.40) scale(1.0 1.085)" text-anchor="middle" font-size="29.5" fill="#000" stroke="#000" stroke-width="0.3" >14</text>
<line x1="692.20" y1="359.70" x2="692.20" y2="368.30" stroke="#000" stroke-width="3.0" />
<text transform="translate(692.20 399.40) scale(1.0 1.085)" text-anchor="middle" font-size="29.5" fill="#000" stroke="#000" stroke-width="0.3" >16</text>
<line x1="763.40" y1="359.70" x2="763.40" y2="368.30" stroke="#000" stroke-width="3.0" />
<text transform="translate(763.40 399.40) scale(1.0 1.085)" text-anchor="middle" font-size="29.5" fill="#000" stroke="#000" stroke-width="0.3" >18</text>
<line x1="834.60" y1="359.70" x2="834.60" y2="368.30" stroke="#000" stroke-width="3.0" />
<text transform="translate(834.60 399.40) scale(1.0 1.085)" text-anchor="middle" font-size="29.5" fill="#000" stroke="#000" stroke-width="0.3" >20</text>
<line x1="905.80" y1="359.70" x2="905.80" y2="368.30" stroke="#000" stroke-width="3.0" />
<text transform="translate(905.80 399.40) scale(1.0 1.085)" text-anchor="middle" font-size="29.5" fill="#000" stroke="#000" stroke-width="0.3" >22</text>
<line x1="977.00" y1="359.70" x2="977.00" y2="368.30" stroke="#000" stroke-width="3.0" />
<text transform="translate(977.00 399.40) scale(1.0 1.085)" text-anchor="middle" font-size="29.5" fill="#000" stroke="#000" stroke-width="0.3" >24</text>
<line x1="1048.20" y1="359.70" x2="1048.20" y2="368.30" stroke="#000" stroke-width="3.0" />
<text transform="translate(1048.20 399.40) scale(1.0 1.085)" text-anchor="middle" font-size="29.5" fill="#000" stroke="#000" stroke-width="0.3" >26</text>
<line x1="1119.40" y1="359.70" x2="1119.40" y2="368.30" stroke="#000" stroke-width="3.0" />
<text transform="translate(1119.40 399.40) scale(1.0 1.085)" text-anchor="middle" font-size="29.5" fill="#000" stroke="#000" stroke-width="0.3" >28</text>
<line x1="1190.60" y1="359.70" x2="1190.60" y2="368.30" stroke="#000" stroke-width="3.0" />
<text transform="translate(1190.60 399.40) scale(1.0 1.085)" text-anchor="middle" font-size="29.5" fill="#000" stroke="#000" stroke-width="0.3" >30</text>
<line x1="1261.80" y1="359.70" x2="1261.80" y2="368.30" stroke="#000" stroke-width="3.0" />
<text transform="translate(1261.80 399.40) scale(1.0 1.085)" text-anchor="middle" font-size="29.5" fill="#000" stroke="#000" stroke-width="0.3" >32</text>
<line x1="1333.00" y1="359.70" x2="1333.00" y2="368.30" stroke="#000" stroke-width="3.0" />
<text transform="translate(1333.00 399.40) scale(1.0 1.085)" text-anchor="middle" font-size="29.5" fill="#000" stroke="#000" stroke-width="0.3" >34</text>
<line x1="1386.30" y1="53.60" x2="1394.90" y2="53.60" stroke="#000" stroke-width="3.0" />
<text transform="translate(1400.20 64.20) scale(1.0 1.085)" text-anchor="start" font-size="29.5" fill="#000" stroke="#000" stroke-width="0.3" >5</text>
<line x1="1386.30" y1="206.65" x2="1394.90" y2="206.65" stroke="#000" stroke-width="3.0" />
<text transform="translate(1400.20 217.25) scale(1.0 1.085)" text-anchor="start" font-size="29.5" fill="#000" stroke="#000" stroke-width="0.3" >0</text>
<line x1="1386.30" y1="359.70" x2="1394.90" y2="359.70" stroke="#000" stroke-width="3.0" />
<text transform="translate(1400.20 370.30) scale(1.0 1.085)" text-anchor="start" font-size="29.5" fill="#000" stroke="#000" stroke-width="0.3" >-5</text>
<text transform="translate(757.40 434.50) scale(1.0 1.03)" text-anchor="middle" font-size="29.85" fill="#000" stroke="#000" stroke-width="0.3" >Day of experiment</text>
<text transform="translate(27.70 200.50) rotate(-90) scale(1.0 1.03)" text-anchor="middle" font-size="29.85" fill="#000" stroke="#000" stroke-width="0.3" >Food intake /</text>
<text transform="translate(62.60 195.50) rotate(-90) scale(1.0 1.03)" text-anchor="middle" font-size="29.1" fill="#000" stroke="#000" stroke-width="0.3" >initial weight (%)</text>
<text transform="translate(1455.60 201.80) rotate(-90) scale(1.0 1.03)" text-anchor="middle" font-size="29.85" fill="#000" stroke="#000" stroke-width="0.3" >Weight gain /</text>
<text transform="translate(1490.00 200.90) rotate(-90) scale(1.0 1.03)" text-anchor="middle" font-size="29.1" fill="#000" stroke="#000" stroke-width="0.3" >initial weight (%)</text>
<line x1="29.00" y1="72.80" x2="61.90" y2="72.80" stroke="#444" stroke-width="2.0" />
<rect x="39.20" y="66.40" width="12.60" height="12.60" fill="#000"/>
<line x1="1448.90" y1="72.90" x2="1481.20" y2="72.90" stroke="#444" stroke-width="2.0" />
<rect x="1458.9" y="66.8" width="12.3" height="12.3" fill="none" stroke="#000" stroke-width="1.9"/>
<line x1="409.24" y1="501.40" x2="409.24" y2="808.30" stroke="#505050" stroke-width="1.9" />
<line x1="155.00" y1="501.40" x2="155.00" y2="808.30" stroke="#7a7a7a" stroke-width="1.7" stroke-dasharray="4 3.55"/>
<line x1="599.92" y1="501.40" x2="599.92" y2="808.30" stroke="#7a7a7a" stroke-width="1.7" stroke-dasharray="4 3.55"/>
<line x1="155.00" y1="677.10" x2="155.00" y2="678.55" stroke="#111" stroke-width="2.0" />
<line x1="155.00" y1="690.85" x2="155.00" y2="692.30" stroke="#111" stroke-width="2.0" />
<line x1="148.80" y1="677.10" x2="161.20" y2="677.10" stroke="#111" stroke-width="2.0" />
<line x1="148.80" y1="692.30" x2="161.20" y2="692.30" stroke="#111" stroke-width="2.0" />
<line x1="409.24" y1="575.10" x2="409.24" y2="585.45" stroke="#111" stroke-width="2.0" />
<line x1="409.24" y1="597.75" x2="409.24" y2="608.10" stroke="#111" stroke-width="2.0" />
<line x1="403.04" y1="575.10" x2="415.44" y2="575.10" stroke="#111" stroke-width="2.0" />
<line x1="403.04" y1="608.10" x2="415.44" y2="608.10" stroke="#111" stroke-width="2.0" />
<line x1="472.80" y1="600.60" x2="472.80" y2="604.75" stroke="#111" stroke-width="2.0" />
<line x1="472.80" y1="617.05" x2="472.80" y2="621.20" stroke="#111" stroke-width="2.0" />
<line x1="466.60" y1="600.60" x2="479.00" y2="600.60" stroke="#111" stroke-width="2.0" />
<line x1="466.60" y1="621.20" x2="479.00" y2="621.20" stroke="#111" stroke-width="2.0" />
<line x1="599.92" y1="680.70" x2="599.92" y2="680.95" stroke="#111" stroke-width="2.0" />
<line x1="599.92" y1="693.25" x2="599.92" y2="693.50" stroke="#111" stroke-width="2.0" />
<line x1="593.72" y1="680.70" x2="606.12" y2="680.70" stroke="#111" stroke-width="2.0" />
<line x1="593.72" y1="693.50" x2="606.12" y2="693.50" stroke="#111" stroke-width="2.0" />
<line x1="155.00" y1="715.10" x2="155.00" y2="725.60" stroke="#111" stroke-width="2.0" />
<line x1="155.00" y1="725.60" x2="155.00" y2="736.10" stroke="#111" stroke-width="2.0" />
<line x1="148.80" y1="715.10" x2="161.20" y2="715.10" stroke="#111" stroke-width="2.0" />
<line x1="148.80" y1="736.10" x2="161.20" y2="736.10" stroke="#111" stroke-width="2.0" />
<line x1="218.56" y1="722.00" x2="218.56" y2="733.20" stroke="#111" stroke-width="2.0" />
<line x1="218.56" y1="733.20" x2="218.56" y2="744.40" stroke="#111" stroke-width="2.0" />
<line x1="212.36" y1="722.00" x2="224.76" y2="722.00" stroke="#111" stroke-width="2.0" />
<line x1="212.36" y1="744.40" x2="224.76" y2="744.40" stroke="#111" stroke-width="2.0" />
<line x1="282.12" y1="704.50" x2="282.12" y2="713.10" stroke="#111" stroke-width="2.0" />
<line x1="282.12" y1="713.10" x2="282.12" y2="721.70" stroke="#111" stroke-width="2.0" />
<line x1="275.92" y1="704.50" x2="288.32" y2="704.50" stroke="#111" stroke-width="2.0" />
<line x1="275.92" y1="721.70" x2="288.32" y2="721.70" stroke="#111" stroke-width="2.0" />
<line x1="345.68" y1="646.00" x2="345.68" y2="658.90" stroke="#111" stroke-width="2.0" />
<line x1="345.68" y1="658.90" x2="345.68" y2="671.80" stroke="#111" stroke-width="2.0" />
<line x1="339.48" y1="646.00" x2="351.88" y2="646.00" stroke="#111" stroke-width="2.0" />
<line x1="339.48" y1="671.80" x2="351.88" y2="671.80" stroke="#111" stroke-width="2.0" />
<line x1="409.24" y1="634.90" x2="409.24" y2="645.70" stroke="#111" stroke-width="2.0" />
<line x1="409.24" y1="645.70" x2="409.24" y2="656.50" stroke="#111" stroke-width="2.0" />
<line x1="403.04" y1="634.90" x2="415.44" y2="634.90" stroke="#111" stroke-width="2.0" />
<line x1="403.04" y1="656.50" x2="415.44" y2="656.50" stroke="#111" stroke-width="2.0" />
<line x1="472.80" y1="611.20" x2="472.80" y2="624.70" stroke="#111" stroke-width="2.0" />
<line x1="472.80" y1="624.70" x2="472.80" y2="638.20" stroke="#111" stroke-width="2.0" />
<line x1="466.60" y1="611.20" x2="479.00" y2="611.20" stroke="#111" stroke-width="2.0" />
<line x1="466.60" y1="638.20" x2="479.00" y2="638.20" stroke="#111" stroke-width="2.0" />
<line x1="536.36" y1="683.50" x2="536.36" y2="698.30" stroke="#111" stroke-width="2.0" />
<line x1="536.36" y1="698.30" x2="536.36" y2="713.10" stroke="#111" stroke-width="2.0" />
<line x1="530.16" y1="683.50" x2="542.56" y2="683.50" stroke="#111" stroke-width="2.0" />
<line x1="530.16" y1="713.10" x2="542.56" y2="713.10" stroke="#111" stroke-width="2.0" />
<line x1="599.92" y1="714.50" x2="599.92" y2="725.20" stroke="#111" stroke-width="2.0" />
<line x1="599.92" y1="725.20" x2="599.92" y2="735.90" stroke="#111" stroke-width="2.0" />
<line x1="593.72" y1="714.50" x2="606.12" y2="714.50" stroke="#111" stroke-width="2.0" />
<line x1="593.72" y1="735.90" x2="606.12" y2="735.90" stroke="#111" stroke-width="2.0" />
<rect x="149.25" y="678.95" width="11.5" height="11.5" fill="#fff" stroke="#000" stroke-width="1.8"/>
<rect x="212.81" y="684.05" width="11.5" height="11.5" fill="#fff" stroke="#000" stroke-width="1.8"/>
<rect x="276.37" y="690.75" width="11.5" height="11.5" fill="#fff" stroke="#000" stroke-width="1.8"/>
<rect x="339.93" y="660.35" width="11.5" height="11.5" fill="#fff" stroke="#000" stroke-width="1.8"/>
<rect x="403.49" y="585.85" width="11.5" height="11.5" fill="#fff" stroke="#000" stroke-width="1.8"/>
<rect x="467.05" y="605.15" width="11.5" height="11.5" fill="#fff" stroke="#000" stroke-width="1.8"/>
<rect x="530.61" y="604.95" width="11.5" height="11.5" fill="#fff" stroke="#000" stroke-width="1.8"/>
<rect x="594.17" y="681.35" width="11.5" height="11.5" fill="#fff" stroke="#000" stroke-width="1.8"/>
<polyline points="155.00,684.70 218.56,689.80 282.12,696.50 345.68,666.10 409.24,591.60 472.80,610.90 536.36,610.70 599.92,687.10" fill="none" stroke="#2a2a2a" stroke-width="2.2" stroke-linejoin="round" />
<polyline points="155.00,725.60 218.56,733.20 282.12,713.10 345.68,658.90 409.24,645.70 472.80,624.70 536.36,698.30 599.92,725.20" fill="none" stroke="#2a2a2a" stroke-width="2.2" stroke-linejoin="round" />
<rect x="149.00" y="719.60" width="12.00" height="12.00" fill="#000"/>
<rect x="212.56" y="727.20" width="12.00" height="12.00" fill="#000"/>
<rect x="276.12" y="707.10" width="12.00" height="12.00" fill="#000"/>
<rect x="339.68" y="652.90" width="12.00" height="12.00" fill="#000"/>
<rect x="403.24" y="639.70" width="12.00" height="12.00" fill="#000"/>
<rect x="466.80" y="618.70" width="12.00" height="12.00" fill="#000"/>
<rect x="530.36" y="692.30" width="12.00" height="12.00" fill="#000"/>
<rect x="593.92" y="719.20" width="12.00" height="12.00" fill="#000"/>
<line x1="127.70" y1="501.40" x2="127.70" y2="809.80" stroke="#000" stroke-width="3.0" />
<line x1="119.10" y1="808.30" x2="629.10" y2="808.30" stroke="#000" stroke-width="3.0" />
<line x1="629.10" y1="500.10" x2="629.10" y2="809.80" stroke="#000" stroke-width="3.0" />
<line x1="119.10" y1="740.10" x2="127.70" y2="740.10" stroke="#000" stroke-width="3.0" />
<line x1="119.10" y1="671.90" x2="127.70" y2="671.90" stroke="#000" stroke-width="3.0" />
<line x1="119.10" y1="603.70" x2="127.70" y2="603.70" stroke="#000" stroke-width="3.0" />
<line x1="119.10" y1="535.50" x2="127.70" y2="535.50" stroke="#000" stroke-width="3.0" />
<text transform="translate(115.40 818.90) scale(1.0 1.085)" text-anchor="end" font-size="29.5" fill="#000" stroke="#000" stroke-width="0.3" >14</text>
<text transform="translate(115.40 750.70) scale(1.0 1.085)" text-anchor="end" font-size="29.5" fill="#000" stroke="#000" stroke-width="0.3" >16</text>
<text transform="translate(115.40 682.50) scale(1.0 1.085)" text-anchor="end" font-size="29.5" fill="#000" stroke="#000" stroke-width="0.3" >18</text>
<text transform="translate(115.40 614.30) scale(1.0 1.085)" text-anchor="end" font-size="29.5" fill="#000" stroke="#000" stroke-width="0.3" >20</text>
<text transform="translate(115.40 546.10) scale(1.0 1.085)" text-anchor="end" font-size="29.5" fill="#000" stroke="#000" stroke-width="0.3" >22</text>
<line x1="155.00" y1="808.30" x2="155.00" y2="816.90" stroke="#000" stroke-width="3.0" />
<text transform="translate(155.00 848.60) scale(1.0 1.085)" text-anchor="middle" font-size="29.5" fill="#000" stroke="#000" stroke-width="0.3" >-180</text>
<line x1="218.56" y1="808.30" x2="218.56" y2="816.90" stroke="#000" stroke-width="3.0" />
<text transform="translate(218.56 848.60) scale(1.0 1.085)" text-anchor="middle" font-size="29.5" fill="#000" stroke="#000" stroke-width="0.3" >-135</text>
<line x1="282.12" y1="808.30" x2="282.12" y2="816.90" stroke="#000" stroke-width="3.0" />
<text transform="translate(282.12 848.60) scale(1.0 1.085)" text-anchor="middle" font-size="29.5" fill="#000" stroke="#000" stroke-width="0.3" >-90</text>
<line x1="345.68" y1="808.30" x2="345.68" y2="816.90" stroke="#000" stroke-width="3.0" />
<text transform="translate(345.68 848.60) scale(1.0 1.085)" text-anchor="middle" font-size="29.5" fill="#000" stroke="#000" stroke-width="0.3" >-45</text>
<line x1="409.24" y1="808.30" x2="409.24" y2="816.90" stroke="#000" stroke-width="3.0" />
<text transform="translate(409.24 848.60) scale(1.0 1.085)" text-anchor="middle" font-size="29.5" fill="#000" stroke="#000" stroke-width="0.3" >45</text>
<line x1="472.80" y1="808.30" x2="472.80" y2="816.90" stroke="#000" stroke-width="3.0" />
<text transform="translate(472.80 848.60) scale(1.0 1.085)" text-anchor="middle" font-size="29.5" fill="#000" stroke="#000" stroke-width="0.3" >90</text>
<line x1="536.36" y1="808.30" x2="536.36" y2="816.90" stroke="#000" stroke-width="3.0" />
<text transform="translate(536.36 848.60) scale(1.0 1.085)" text-anchor="middle" font-size="29.5" fill="#000" stroke="#000" stroke-width="0.3" >135</text>
<line x1="599.92" y1="808.30" x2="599.92" y2="816.90" stroke="#000" stroke-width="3.0" />
<text transform="translate(599.92 848.60) scale(1.0 1.085)" text-anchor="middle" font-size="29.5" fill="#000" stroke="#000" stroke-width="0.3" >180</text>
<line x1="629.10" y1="501.60" x2="637.70" y2="501.60" stroke="#000" stroke-width="3.0" />
<text transform="translate(642.80 512.20) scale(1.0 1.085)" text-anchor="start" font-size="29.5" fill="#000" stroke="#000" stroke-width="0.3" >5</text>
<line x1="629.10" y1="654.95" x2="637.70" y2="654.95" stroke="#000" stroke-width="3.0" />
<text transform="translate(642.80 665.55) scale(1.0 1.085)" text-anchor="start" font-size="29.5" fill="#000" stroke="#000" stroke-width="0.3" >0</text>
<line x1="629.10" y1="808.30" x2="637.70" y2="808.30" stroke="#000" stroke-width="3.0" />
<text transform="translate(642.80 818.90) scale(1.0 1.085)" text-anchor="start" font-size="29.5" fill="#000" stroke="#000" stroke-width="0.3" >-5</text>
<text transform="translate(378.10 891.50) scale(1.0 1.03)" text-anchor="middle" font-size="29.85" fill="#000" stroke="#000" stroke-width="0.3" >LD-TRF phase difference(°)</text>
<text transform="translate(27.70 652.00) rotate(-90) scale(1.0 1.03)" text-anchor="middle" font-size="29.85" fill="#000" stroke="#000" stroke-width="0.3" >Food intake /</text>
<text transform="translate(62.70 644.50) rotate(-90) scale(1.0 1.03)" text-anchor="middle" font-size="29.1" fill="#000" stroke="#000" stroke-width="0.3" >initial weight (%)</text>
<text transform="translate(703.60 650.00) rotate(-90) scale(1.0 1.03)" text-anchor="middle" font-size="29.85" fill="#000" stroke="#000" stroke-width="0.3" >Weight gain /</text>
<text transform="translate(739.70 649.10) rotate(-90) scale(1.0 1.03)" text-anchor="middle" font-size="29.1" fill="#000" stroke="#000" stroke-width="0.3" >initial weight (%)</text>
<rect x="1022.30" y="641.00" width="138.00" height="167.50" fill="#000"/>
<rect x="1229.80" y="734.30" width="137.90" height="74.20" fill="#808080"/>
<line x1="1091.40" y1="641.50" x2="1091.40" y2="631.30" stroke="#000" stroke-width="2.6" />
<line x1="1057.20" y1="631.30" x2="1125.60" y2="631.30" stroke="#000" stroke-width="2.6" />
<line x1="1298.70" y1="734.80" x2="1298.70" y2="726.80" stroke="#000" stroke-width="2.6" />
<line x1="1264.60" y1="726.80" x2="1332.80" y2="726.80" stroke="#000" stroke-width="2.6" />
<line x1="953.50" y1="499.60" x2="953.50" y2="810.00" stroke="#000" stroke-width="3.0" />
<line x1="944.90" y1="808.50" x2="1438.50" y2="808.50" stroke="#000" stroke-width="3.0" />
<line x1="944.90" y1="740.10" x2="953.50" y2="740.10" stroke="#000" stroke-width="3.0" />
<line x1="944.90" y1="671.70" x2="953.50" y2="671.70" stroke="#000" stroke-width="3.0" />
<line x1="944.90" y1="603.30" x2="953.50" y2="603.30" stroke="#000" stroke-width="3.0" />
<line x1="944.90" y1="534.90" x2="953.50" y2="534.90" stroke="#000" stroke-width="3.0" />
<text transform="translate(941.20 819.10) scale(1.0 1.085)" text-anchor="end" font-size="29.5" fill="#000" stroke="#000" stroke-width="0.3" >14</text>
<text transform="translate(941.20 750.70) scale(1.0 1.085)" text-anchor="end" font-size="29.5" fill="#000" stroke="#000" stroke-width="0.3" >16</text>
<text transform="translate(941.20 682.30) scale(1.0 1.085)" text-anchor="end" font-size="29.5" fill="#000" stroke="#000" stroke-width="0.3" >18</text>
<text transform="translate(941.20 613.90) scale(1.0 1.085)" text-anchor="end" font-size="29.5" fill="#000" stroke="#000" stroke-width="0.3" >20</text>
<text transform="translate(941.20 545.50) scale(1.0 1.085)" text-anchor="end" font-size="29.5" fill="#000" stroke="#000" stroke-width="0.3" >22</text>
<line x1="1091.60" y1="808.50" x2="1091.60" y2="817.10" stroke="#000" stroke-width="3.0" />
<line x1="1298.80" y1="808.50" x2="1298.80" y2="817.10" stroke="#000" stroke-width="3.0" />
<text transform="translate(1091.80 847.20) scale(1.0 0.985)" text-anchor="middle" font-size="29.85" fill="#000" stroke="#000" stroke-width="0.3" >In-phase</text>
<text transform="translate(1298.50 847.00) scale(1.0 0.985)" text-anchor="middle" font-size="29.85" fill="#000" stroke="#000" stroke-width="0.3" >Anti-phase</text>
<path d="M1277.35,689.20L1277.35,684.80M1277.35,689.20L1273.17,687.84M1277.35,689.20L1274.76,692.76M1277.35,689.20L1279.94,692.76M1277.35,689.20L1281.53,687.84" stroke="#000" stroke-width="2.2" stroke-linecap="round" fill="none"/>
<path d="M1290.65,689.20L1290.65,684.80M1290.65,689.20L1286.47,687.84M1290.65,689.20L1288.06,692.76M1290.65,689.20L1293.24,692.76M1290.65,689.20L1294.83,687.84" stroke="#000" stroke-width="2.2" stroke-linecap="round" fill="none"/>
<path d="M1303.95,689.20L1303.95,684.80M1303.95,689.20L1299.77,687.84M1303.95,689.20L1301.36,692.76M1303.95,689.20L1306.54,692.76M1303.95,689.20L1308.13,687.84" stroke="#000" stroke-width="2.2" stroke-linecap="round" fill="none"/>
<path d="M1317.25,689.20L1317.25,684.80M1317.25,689.20L1313.07,687.84M1317.25,689.20L1314.66,692.76M1317.25,689.20L1319.84,692.76M1317.25,689.20L1321.43,687.84" stroke="#000" stroke-width="2.2" stroke-linecap="round" fill="none"/>
<text transform="translate(862.90 650.00) rotate(-90) scale(1.0 1.03)" text-anchor="middle" font-size="29.85" fill="#000" stroke="#000" stroke-width="0.3" >Food intake /</text>
<text transform="translate(897.80 644.20) rotate(-90) scale(1.0 1.03)" text-anchor="middle" font-size="29.1" fill="#000" stroke="#000" stroke-width="0.3" >initial weight (%)</text>
<rect x="165.80" y="1003.40" width="137.10" height="141.90" fill="#000"/>
<rect x="380.50" y="1145.30" width="137.20" height="44.20" fill="#808080"/>
<line x1="105.20" y1="1145.30" x2="587.20" y2="1145.30" stroke="#111" stroke-width="2.6" />
<line x1="242.60" y1="1003.90" x2="242.60" y2="981.00" stroke="#000" stroke-width="2.6" />
<line x1="208.50" y1="981.00" x2="276.70" y2="981.00" stroke="#000" stroke-width="2.6" />
<line x1="449.00" y1="1189.00" x2="449.00" y2="1205.40" stroke="#000" stroke-width="2.6" />
<line x1="415.20" y1="1205.40" x2="482.80" y2="1205.40" stroke="#000" stroke-width="2.6" />
<line x1="105.20" y1="952.80" x2="105.20" y2="1262.10" stroke="#000" stroke-width="3.0" />
<line x1="105.20" y1="1260.60" x2="588.20" y2="1260.60" stroke="#000" stroke-width="3.0" />
<line x1="96.60" y1="992.20" x2="105.20" y2="992.20" stroke="#000" stroke-width="3.0" />
<text transform="translate(93.20 1002.80) scale(1.0 1.085)" text-anchor="end" font-size="29.5" fill="#000" stroke="#000" stroke-width="0.3" >2</text>
<line x1="96.60" y1="1068.75" x2="105.20" y2="1068.75" stroke="#000" stroke-width="3.0" />
<text transform="translate(93.20 1079.35) scale(1.0 1.085)" text-anchor="end" font-size="29.5" fill="#000" stroke="#000" stroke-width="0.3" >1</text>
<line x1="96.60" y1="1145.30" x2="105.20" y2="1145.30" stroke="#000" stroke-width="3.0" />
<text transform="translate(93.20 1155.90) scale(1.0 1.085)" text-anchor="end" font-size="29.5" fill="#000" stroke="#000" stroke-width="0.3" >0</text>
<line x1="96.60" y1="1221.85" x2="105.20" y2="1221.85" stroke="#000" stroke-width="3.0" />
<text transform="translate(93.20 1232.45) scale(1.0 1.085)" text-anchor="end" font-size="29.5" fill="#000" stroke="#000" stroke-width="0.3" >-1</text>
<line x1="242.60" y1="1260.60" x2="242.60" y2="1269.20" stroke="#000" stroke-width="3.0" />
<line x1="449.00" y1="1260.60" x2="449.00" y2="1269.20" stroke="#000" stroke-width="3.0" />
<text transform="translate(242.80 1299.00) scale(1.0 0.985)" text-anchor="middle" font-size="29.85" fill="#000" stroke="#000" stroke-width="0.3" >In-phase</text>
<text transform="translate(449.00 1299.00) scale(1.0 0.985)" text-anchor="middle" font-size="29.85" fill="#000" stroke="#000" stroke-width="0.3" >Anti-phase</text>
<path d="M427.65,1071.00L427.65,1066.60M427.65,1071.00L423.47,1069.64M427.65,1071.00L425.06,1074.56M427.65,1071.00L430.24,1074.56M427.65,1071.00L431.83,1069.64" stroke="#000" stroke-width="2.2" stroke-linecap="round" fill="none"/>
<path d="M440.95,1071.00L440.95,1066.60M440.95,1071.00L436.77,1069.64M440.95,1071.00L438.36,1074.56M440.95,1071.00L443.54,1074.56M440.95,1071.00L445.13,1069.64" stroke="#000" stroke-width="2.2" stroke-linecap="round" fill="none"/>
<path d="M454.25,1071.00L454.25,1066.60M454.25,1071.00L450.07,1069.64M454.25,1071.00L451.66,1074.56M454.25,1071.00L456.84,1074.56M454.25,1071.00L458.43,1069.64" stroke="#000" stroke-width="2.2" stroke-linecap="round" fill="none"/>
<path d="M467.55,1071.00L467.55,1066.60M467.55,1071.00L463.37,1069.64M467.55,1071.00L464.96,1074.56M467.55,1071.00L470.14,1074.56M467.55,1071.00L471.73,1069.64" stroke="#000" stroke-width="2.2" stroke-linecap="round" fill="none"/>
<text transform="translate(26.80 1101.70) rotate(-90) scale(1.0 1.03)" text-anchor="middle" font-size="29.85" fill="#000" stroke="#000" stroke-width="0.3" >Weight gain /</text>
<text transform="translate(62.90 1101.00) rotate(-90) scale(1.0 1.03)" text-anchor="middle" font-size="29.1" fill="#000" stroke="#000" stroke-width="0.3" >initial weight (%)</text>
<rect x="1022.30" y="1001.20" width="138.00" height="132.30" fill="#000"/>
<rect x="1229.80" y="1133.50" width="138.00" height="44.40" fill="#808080"/>
<line x1="953.50" y1="1133.50" x2="1438.30" y2="1133.50" stroke="#111" stroke-width="2.6" />
<line x1="1091.40" y1="1001.70" x2="1091.40" y2="973.70" stroke="#000" stroke-width="2.6" />
<line x1="1057.20" y1="973.70" x2="1125.60" y2="973.70" stroke="#000" stroke-width="2.6" />
<line x1="1298.90" y1="1177.40" x2="1298.90" y2="1193.30" stroke="#000" stroke-width="2.6" />
<line x1="1264.95" y1="1193.30" x2="1332.85" y2="1193.30" stroke="#000" stroke-width="2.6" />
<line x1="953.50" y1="950.10" x2="953.50" y2="1261.90" stroke="#000" stroke-width="3.0" />
<line x1="953.50" y1="1260.40" x2="1438.30" y2="1260.40" stroke="#000" stroke-width="3.0" />
<line x1="944.90" y1="952.20" x2="953.50" y2="952.20" stroke="#000" stroke-width="3.0" />
<text transform="translate(941.20 962.80) scale(1.0 1.085)" text-anchor="end" font-size="29.5" fill="#000" stroke="#000" stroke-width="0.3" >10</text>
<line x1="944.90" y1="1042.85" x2="953.50" y2="1042.85" stroke="#000" stroke-width="3.0" />
<text transform="translate(941.20 1053.45) scale(1.0 1.085)" text-anchor="end" font-size="29.5" fill="#000" stroke="#000" stroke-width="0.3" >5</text>
<line x1="944.90" y1="1133.50" x2="953.50" y2="1133.50" stroke="#000" stroke-width="3.0" />
<text transform="translate(941.20 1144.10) scale(1.0 1.085)" text-anchor="end" font-size="29.5" fill="#000" stroke="#000" stroke-width="0.3" >0</text>
<line x1="944.90" y1="1224.15" x2="953.50" y2="1224.15" stroke="#000" stroke-width="3.0" />
<text transform="translate(941.20 1234.75) scale(1.0 1.085)" text-anchor="end" font-size="29.5" fill="#000" stroke="#000" stroke-width="0.3" >-5</text>
<line x1="1091.60" y1="1260.40" x2="1091.60" y2="1269.00" stroke="#000" stroke-width="3.0" />
<line x1="1299.00" y1="1260.40" x2="1299.00" y2="1269.00" stroke="#000" stroke-width="3.0" />
<text transform="translate(1091.80 1297.60) scale(1.0 0.985)" text-anchor="middle" font-size="29.85" fill="#000" stroke="#000" stroke-width="0.3" >In-phase</text>
<text transform="translate(1298.50 1297.60) scale(1.0 0.985)" text-anchor="middle" font-size="29.85" fill="#000" stroke="#000" stroke-width="0.3" >Anti-phase</text>
<path d="M1276.05,1076.80L1276.05,1072.40M1276.05,1076.80L1271.87,1075.44M1276.05,1076.80L1273.46,1080.36M1276.05,1076.80L1278.64,1080.36M1276.05,1076.80L1280.23,1075.44" stroke="#000" stroke-width="2.2" stroke-linecap="round" fill="none"/>
<path d="M1289.35,1076.80L1289.35,1072.40M1289.35,1076.80L1285.17,1075.44M1289.35,1076.80L1286.76,1080.36M1289.35,1076.80L1291.94,1080.36M1289.35,1076.80L1293.53,1075.44" stroke="#000" stroke-width="2.2" stroke-linecap="round" fill="none"/>
<path d="M1302.65,1076.80L1302.65,1072.40M1302.65,1076.80L1298.47,1075.44M1302.65,1076.80L1300.06,1080.36M1302.65,1076.80L1305.24,1080.36M1302.65,1076.80L1306.83,1075.44" stroke="#000" stroke-width="2.2" stroke-linecap="round" fill="none"/>
<path d="M1315.95,1076.80L1315.95,1072.40M1315.95,1076.80L1311.77,1075.44M1315.95,1076.80L1313.36,1080.36M1315.95,1076.80L1318.54,1080.36M1315.95,1076.80L1320.13,1075.44" stroke="#000" stroke-width="2.2" stroke-linecap="round" fill="none"/>
<text transform="translate(871.10 1101.70) rotate(-90) scale(1.0 1.03)" text-anchor="middle" font-size="29.85" fill="#000" stroke="#000" stroke-width="0.3" >Weight change /</text>
<text transform="translate(907.20 1100.80) rotate(-90) scale(1.0 1.03)" text-anchor="middle" font-size="29.85" fill="#000" stroke="#000" stroke-width="0.3" >food intake (%)</text>
<polyline points="107.30,1596.00 162.57,1510.90 217.85,1509.30 328.40,1569.00 438.95,1578.40 549.50,1597.20" fill="none" stroke="#8a8a8a" stroke-width="2.6" stroke-linejoin="round" stroke-dasharray="8 6"/>
<circle cx="107.30" cy="1596.00" r="5.8" fill="#8a8a8a"/>
<line x1="162.57" y1="1503.60" x2="162.57" y2="1518.20" stroke="#8a8a8a" stroke-width="3.2" />
<line x1="156.27" y1="1503.60" x2="168.88" y2="1503.60" stroke="#8a8a8a" stroke-width="3.2" />
<line x1="156.27" y1="1518.20" x2="168.88" y2="1518.20" stroke="#8a8a8a" stroke-width="3.2" />
<circle cx="162.57" cy="1510.90" r="5.8" fill="#8a8a8a"/>
<circle cx="217.85" cy="1509.30" r="5.8" fill="#8a8a8a"/>
<circle cx="328.40" cy="1569.00" r="5.8" fill="#8a8a8a"/>
<circle cx="438.95" cy="1578.40" r="5.8" fill="#8a8a8a"/>
<circle cx="549.50" cy="1597.20" r="5.8" fill="#8a8a8a"/>
<polyline points="107.30,1601.90 162.57,1458.20 217.85,1484.30 328.40,1551.80 438.95,1581.20 549.50,1603.70" fill="none" stroke="#000" stroke-width="3.6" stroke-linejoin="round" />
<circle cx="107.30" cy="1601.90" r="6.0" fill="#000"/>
<line x1="162.57" y1="1436.40" x2="162.57" y2="1480.00" stroke="#000" stroke-width="3.2" />
<line x1="156.27" y1="1436.40" x2="168.88" y2="1436.40" stroke="#000" stroke-width="3.2" />
<line x1="156.27" y1="1480.00" x2="168.88" y2="1480.00" stroke="#000" stroke-width="3.2" />
<circle cx="162.57" cy="1458.20" r="6.0" fill="#000"/>
<line x1="217.85" y1="1466.10" x2="217.85" y2="1502.50" stroke="#000" stroke-width="3.2" />
<line x1="211.55" y1="1466.10" x2="224.15" y2="1466.10" stroke="#000" stroke-width="3.2" />
<line x1="211.55" y1="1502.50" x2="224.15" y2="1502.50" stroke="#000" stroke-width="3.2" />
<circle cx="217.85" cy="1484.30" r="6.0" fill="#000"/>
<line x1="328.40" y1="1543.10" x2="328.40" y2="1560.50" stroke="#000" stroke-width="3.2" />
<line x1="322.10" y1="1543.10" x2="334.70" y2="1543.10" stroke="#000" stroke-width="3.2" />
<line x1="322.10" y1="1560.50" x2="334.70" y2="1560.50" stroke="#000" stroke-width="3.2" />
<circle cx="328.40" cy="1551.80" r="6.0" fill="#000"/>
<circle cx="438.95" cy="1581.20" r="6.0" fill="#000"/>
<circle cx="549.50" cy="1603.70" r="6.0" fill="#000"/>
<line x1="107.30" y1="1385.90" x2="107.30" y2="1708.10" stroke="#000" stroke-width="3.0" />
<line x1="98.70" y1="1706.60" x2="587.40" y2="1706.60" stroke="#000" stroke-width="3.0" />
<line x1="98.70" y1="1626.48" x2="107.30" y2="1626.48" stroke="#000" stroke-width="3.0" />
<text transform="translate(92.20 1637.08) scale(1.0 1.085)" text-anchor="end" font-size="29.5" fill="#000" stroke="#000" stroke-width="0.3" >100</text>
<line x1="98.70" y1="1546.36" x2="107.30" y2="1546.36" stroke="#000" stroke-width="3.0" />
<text transform="translate(92.20 1556.96) scale(1.0 1.085)" text-anchor="end" font-size="29.5" fill="#000" stroke="#000" stroke-width="0.3" >200</text>
<line x1="98.70" y1="1466.24" x2="107.30" y2="1466.24" stroke="#000" stroke-width="3.0" />
<text transform="translate(92.20 1476.84) scale(1.0 1.085)" text-anchor="end" font-size="29.5" fill="#000" stroke="#000" stroke-width="0.3" >300</text>
<line x1="98.70" y1="1386.12" x2="107.30" y2="1386.12" stroke="#000" stroke-width="3.0" />
<text transform="translate(92.20 1396.72) scale(1.0 1.085)" text-anchor="end" font-size="29.5" fill="#000" stroke="#000" stroke-width="0.3" >400</text>
<text transform="translate(87.00 1715.10) scale(1.0 1.085)" text-anchor="end" font-size="29.5" fill="#000" stroke="#000" stroke-width="0.3" >0</text>
<line x1="107.30" y1="1706.60" x2="107.30" y2="1715.20" stroke="#000" stroke-width="3.0" />
<text transform="translate(109.10 1742.40) scale(1.0 1.085)" text-anchor="middle" font-size="29.5" fill="#000" stroke="#000" stroke-width="0.3" >0</text>
<line x1="162.57" y1="1706.60" x2="162.57" y2="1715.20" stroke="#000" stroke-width="3.0" />
<text transform="translate(166.97 1742.40) scale(1.0 1.085)" text-anchor="middle" font-size="29.5" fill="#000" stroke="#000" stroke-width="0.3" >15</text>
<line x1="217.85" y1="1706.60" x2="217.85" y2="1715.20" stroke="#000" stroke-width="3.0" />
<text transform="translate(220.75 1742.40) scale(1.0 1.085)" text-anchor="middle" font-size="29.5" fill="#000" stroke="#000" stroke-width="0.3" >30</text>
<line x1="328.40" y1="1706.60" x2="328.40" y2="1715.20" stroke="#000" stroke-width="3.0" />
<text transform="translate(331.80 1742.40) scale(1.0 1.085)" text-anchor="middle" font-size="29.5" fill="#000" stroke="#000" stroke-width="0.3" >60</text>
<line x1="438.95" y1="1706.60" x2="438.95" y2="1715.20" stroke="#000" stroke-width="3.0" />
<text transform="translate(441.95 1742.40) scale(1.0 1.085)" text-anchor="middle" font-size="29.5" fill="#000" stroke="#000" stroke-width="0.3" >90</text>
<line x1="549.50" y1="1706.60" x2="549.50" y2="1715.20" stroke="#000" stroke-width="3.0" />
<text transform="translate(554.00 1742.40) scale(1.0 1.085)" text-anchor="middle" font-size="29.5" fill="#000" stroke="#000" stroke-width="0.3" >120</text>
<text transform="translate(352.70 1781.00) scale(1.0 1.03)" text-anchor="middle" font-size="29.85" fill="#000" stroke="#000" stroke-width="0.3" >Time (min)</text>
<text transform="translate(551.30 1782.50) scale(1.0 1.03)" text-anchor="middle" font-size="29.85" fill="#000" stroke="#000" stroke-width="0.3" >$$$$</text>
<text transform="translate(29.30 1539.80) rotate(-90) scale(1.0 1.03)" text-anchor="middle" font-size="29.85" fill="#000" stroke="#000" stroke-width="0.3" >Blood glucose (mg/dL)</text>
<path d="M150.90,1418.00L150.90,1413.85M150.90,1418.00L146.95,1416.72M150.90,1418.00L148.46,1421.36M150.90,1418.00L153.34,1421.36M150.90,1418.00L154.85,1416.72" stroke="#000" stroke-width="2.0" stroke-linecap="round" fill="none"/>
<path d="M162.40,1418.00L162.40,1413.85M162.40,1418.00L158.45,1416.72M162.40,1418.00L159.96,1421.36M162.40,1418.00L164.84,1421.36M162.40,1418.00L166.35,1416.72" stroke="#000" stroke-width="2.0" stroke-linecap="round" fill="none"/>
<path d="M173.90,1418.00L173.90,1413.85M173.90,1418.00L169.95,1416.72M173.90,1418.00L171.46,1421.36M173.90,1418.00L176.34,1421.36M173.90,1418.00L177.85,1416.72" stroke="#000" stroke-width="2.0" stroke-linecap="round" fill="none"/>
<line x1="352.80" y1="1422.70" x2="386.70" y2="1422.70" stroke="#000" stroke-width="3.4" />
<circle cx="369.6" cy="1422.7" r="6" fill="#000"/>
<line x1="352.80" y1="1466.00" x2="362.00" y2="1466.00" stroke="#8a8a8a" stroke-width="2.6" />
<line x1="377.50" y1="1466.00" x2="386.70" y2="1466.00" stroke="#8a8a8a" stroke-width="2.6" />
<circle cx="369.6" cy="1466.0" r="5.8" fill="#8a8a8a"/>
<text transform="translate(405.60 1432.10) scale(1.0 1.03)" text-anchor="start" font-size="29.85" fill="#000" stroke="#000" stroke-width="0.3" >In-phase</text>
<text transform="translate(405.20 1474.20) scale(1.0 1.03)" text-anchor="start" font-size="29.85" fill="#000" stroke="#000" stroke-width="0.3" >Anti-phase</text>
<line x1="554.20" y1="1419.20" x2="554.20" y2="1473.00" stroke="#444" stroke-width="1.6" />
<text transform="translate(580.00 1452.00) scale(1.0 1.03)" text-anchor="middle" font-size="29.85" fill="#000" stroke="#000" stroke-width="0.3" >§§</text>
<rect x="1024.80" y="1507.80" width="138.90" height="198.40" fill="#000"/>
<rect x="1232.70" y="1564.50" width="138.10" height="141.70" fill="#a0a0a0"/>
<line x1="1094.30" y1="1508.30" x2="1094.30" y2="1477.80" stroke="#000" stroke-width="2.6" />
<line x1="1060.05" y1="1477.80" x2="1128.55" y2="1477.80" stroke="#000" stroke-width="2.6" />
<line x1="1302.00" y1="1565.00" x2="1302.00" y2="1554.70" stroke="#000" stroke-width="2.6" />
<line x1="1268.10" y1="1554.70" x2="1335.90" y2="1554.70" stroke="#000" stroke-width="2.6" />
<line x1="955.80" y1="1382.80" x2="955.80" y2="1707.70" stroke="#000" stroke-width="3.0" />
<line x1="947.20" y1="1706.20" x2="1441.30" y2="1706.20" stroke="#000" stroke-width="3.0" />
<line x1="947.20" y1="1598.43" x2="955.80" y2="1598.43" stroke="#000" stroke-width="3.0" />
<line x1="947.20" y1="1490.67" x2="955.80" y2="1490.67" stroke="#000" stroke-width="3.0" />
<line x1="947.20" y1="1382.90" x2="955.80" y2="1382.90" stroke="#000" stroke-width="3.0" />
<text transform="translate(940.60 1609.03) scale(1.0 1.115)" text-anchor="end" font-size="28.7" fill="#000" stroke="#000" stroke-width="0.3" >5000</text>
<text transform="translate(940.60 1501.27) scale(1.0 1.115)" text-anchor="end" font-size="28.7" fill="#000" stroke="#000" stroke-width="0.3" >10000</text>
<text transform="translate(940.60 1393.50) scale(1.0 1.115)" text-anchor="end" font-size="28.7" fill="#000" stroke="#000" stroke-width="0.3" >15000</text>
<text transform="translate(931.00 1715.20) scale(1.0 1.085)" text-anchor="end" font-size="29.5" fill="#000" stroke="#000" stroke-width="0.3" >0</text>
<line x1="1094.30" y1="1706.20" x2="1094.30" y2="1714.80" stroke="#000" stroke-width="3.0" />
<line x1="1301.60" y1="1706.20" x2="1301.60" y2="1714.80" stroke="#000" stroke-width="3.0" />
<text transform="translate(1099.00 1742.00) scale(1.0 0.985)" text-anchor="middle" font-size="29.85" fill="#000" stroke="#000" stroke-width="0.3" >In-phase</text>
<text transform="translate(1309.20 1742.00) scale(1.0 0.985)" text-anchor="middle" font-size="29.85" fill="#000" stroke="#000" stroke-width="0.3" >Anti-phase</text>
<text transform="translate(1302.10 1530.30) scale(1.0 1.085)" text-anchor="middle" font-size="29.5" fill="#000" stroke="#000" stroke-width="0.3" >0,0674</text>
<text transform="translate(850.00 1539.00) rotate(-90) scale(1.0 1.03)" text-anchor="middle" font-size="29.85" fill="#000" stroke="#000" stroke-width="0.3" >iAUC (A.U.)</text>
</g>
</svg></body></html>
